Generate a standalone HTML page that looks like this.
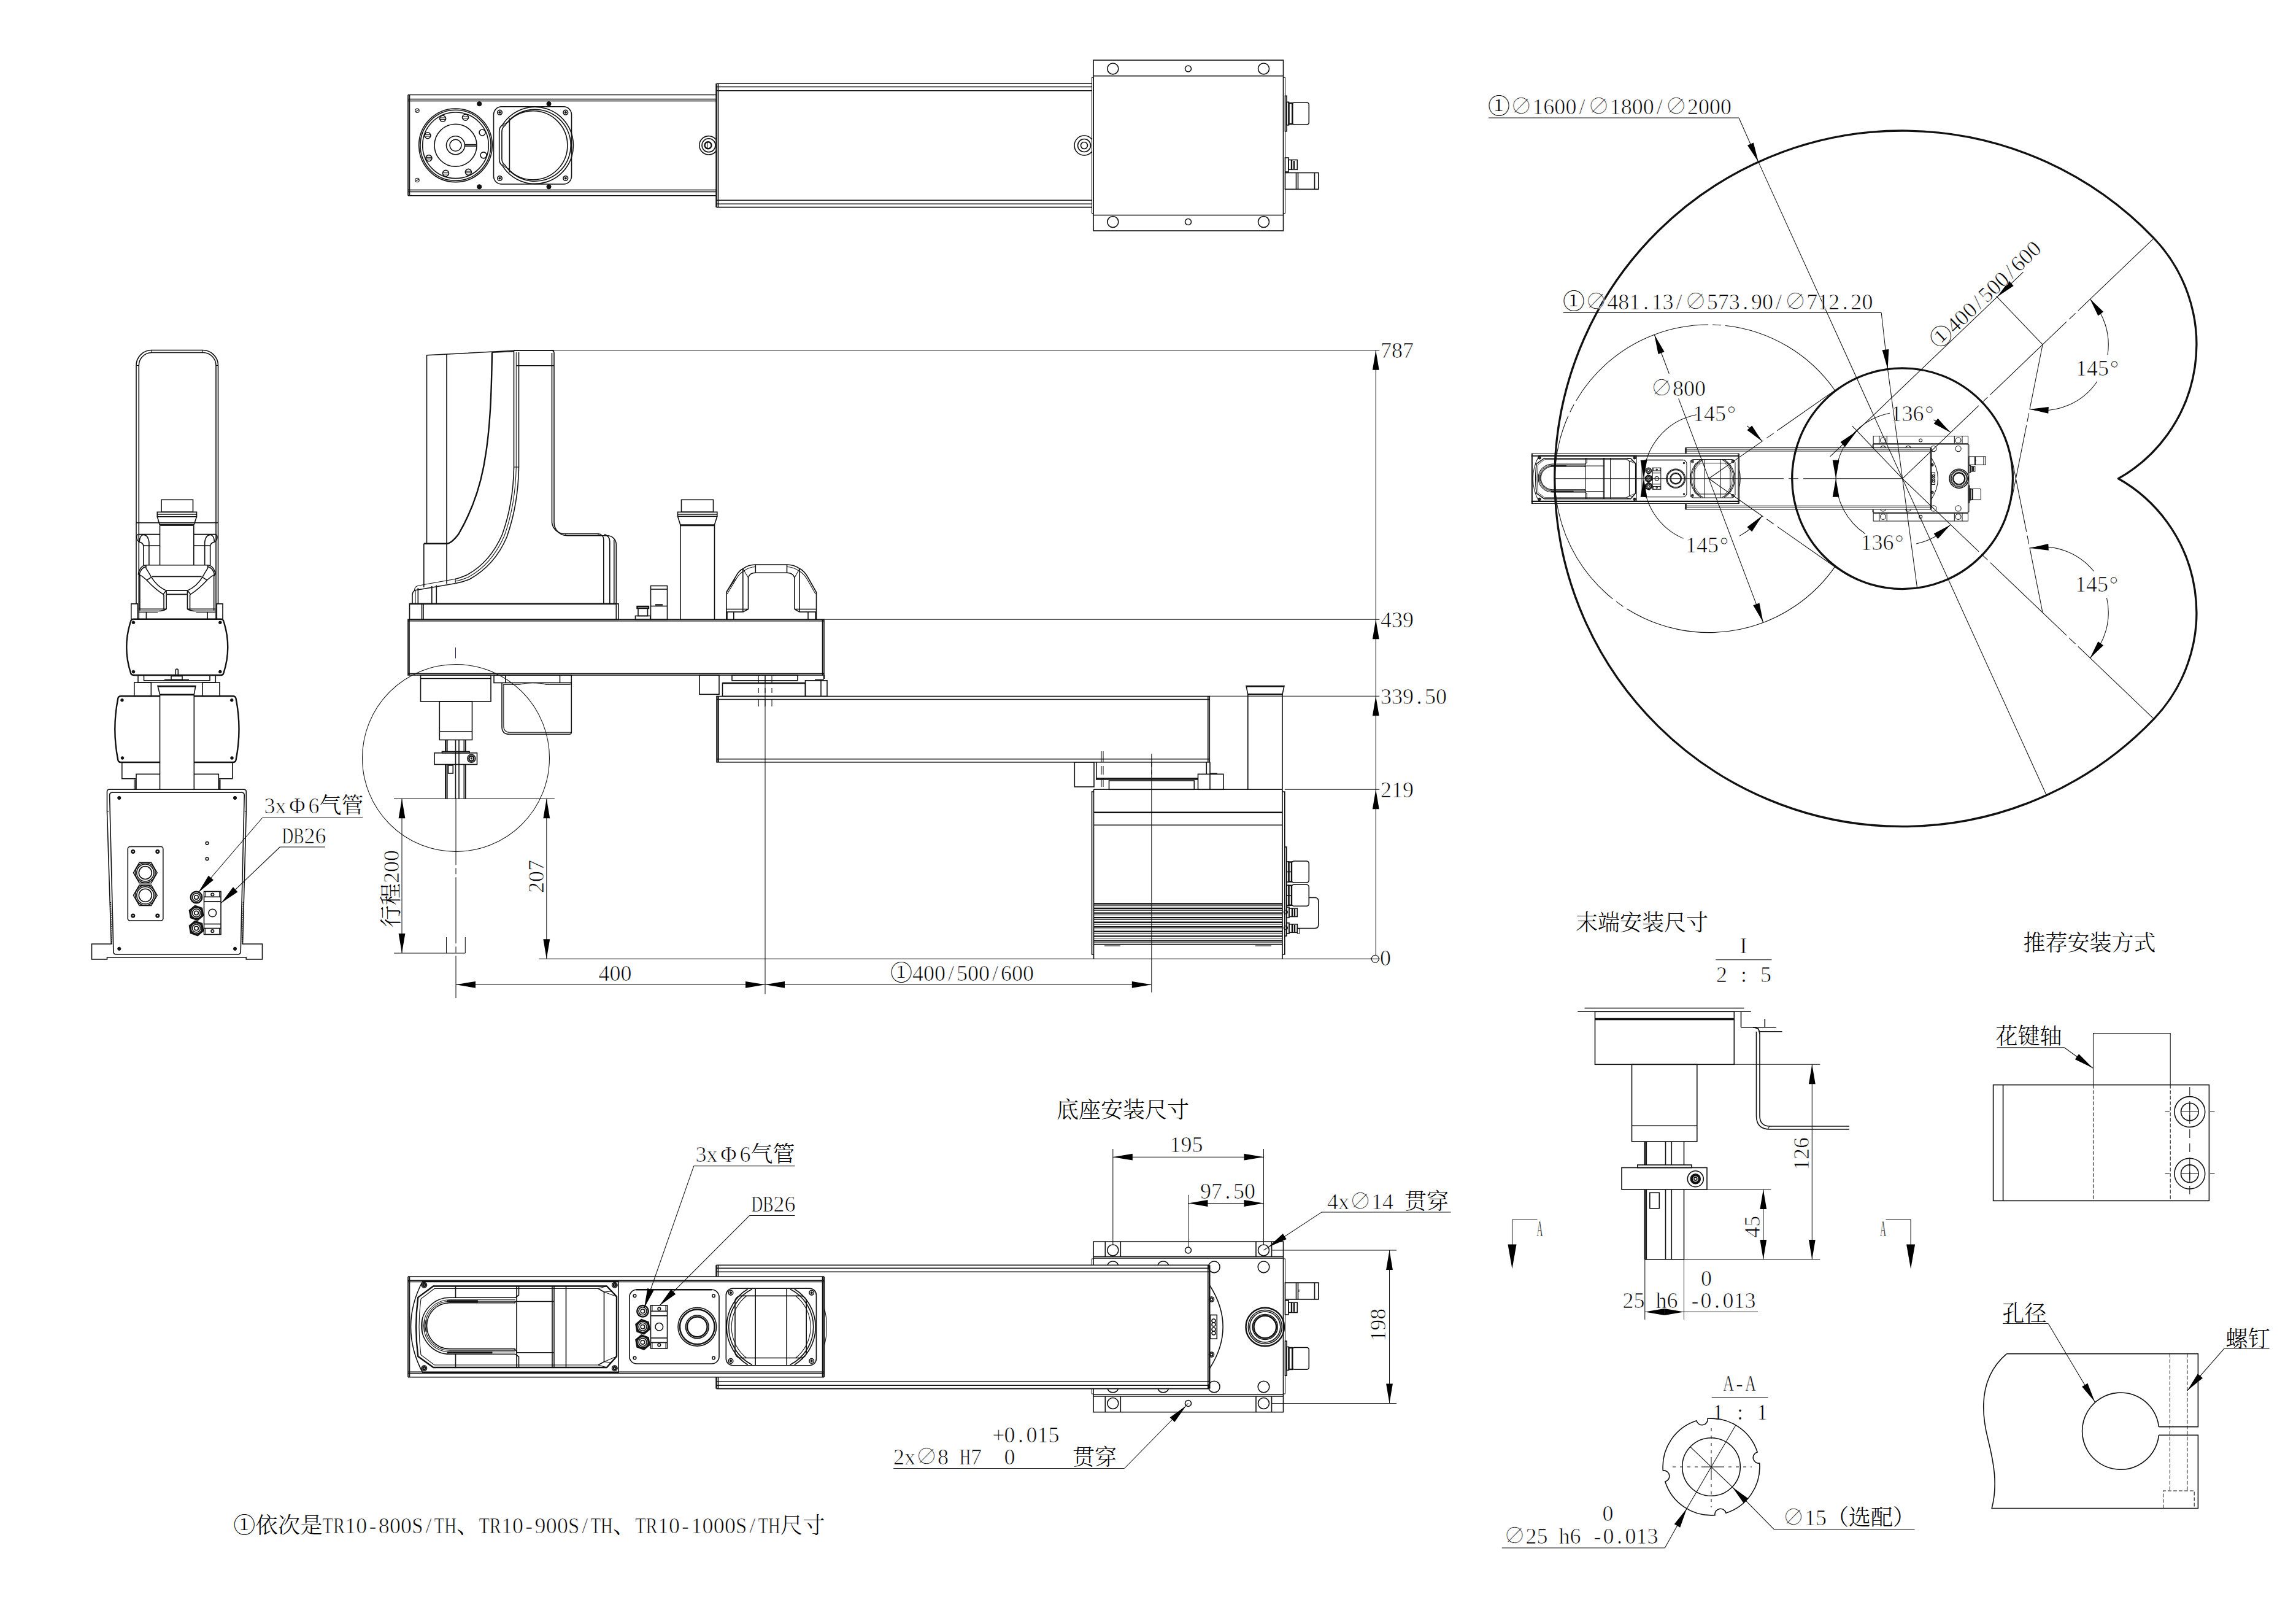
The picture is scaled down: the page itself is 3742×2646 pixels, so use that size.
<!DOCTYPE html>
<html lang="zh"><head><meta charset="utf-8"><title>TR10 SCARA outline drawing</title>
<style>
html,body{margin:0;padding:0;background:#fff}
svg{display:block}
path,rect,circle{fill:none;stroke:#111;stroke-width:1.6}
.t{stroke-width:1.05}
.h{stroke-width:2.4}
.k{stroke-width:3.3;stroke-linejoin:round}
.s{fill:#111;stroke-width:1}
.a{fill:#000;stroke:none}
.w{fill:#fff}
text{font-family:"Liberation Serif","Noto Serif CJK SC",serif;font-size:36px;fill:#000;stroke:#fff;stroke-width:0.7px}
.c{stroke:none;font-weight:300}
.m path,.m rect,.m circle{stroke-width:2.1}
.m .t{stroke-width:1.6}
.m .h,.m .k{stroke-width:3}
.m .s{stroke-width:1}
</style></head><body>
<svg width="3742" height="2646" viewBox="0 0 3742 2646">
<g id="topview">
<path class="o" d="M665 154.5L1167.5 154.5"/>
<path class="o" d="M665 161.5L1167.5 161.5"/>
<path class="o" d="M665 164.5L1167.5 164.5"/>
<path class="o" d="M665 309.5L1167.5 309.5"/>
<path class="o" d="M665 312.5L1167.5 312.5"/>
<path class="o" d="M665 318.8L1167.5 318.8"/>
<path class="o" d="M665 154.5L665 318.8"/>
<path class="o" d="M667.5 154.5L667.5 318.8"/>
<path class="o" d="M1167.5 136.3L1779.5 136.3"/>
<path class="o" d="M1167.5 141.5L1779.5 141.5"/>
<path class="o" d="M1167.5 147.8L1779.5 147.8"/>
<path class="o" d="M1167.5 326.3L1779.5 326.3"/>
<path class="o" d="M1167.5 332.2L1779.5 332.2"/>
<path class="o" d="M1167.5 337.6L1779.5 337.6"/>
<path class="h" d="M1167.5 136.3L1167.5 337.6"/>
<path class="o" d="M1170.5 136.3L1170.5 337.6"/>
<circle class="o" cx="742.5" cy="236.8" r="59.8"/>
<circle class="o" cx="742.5" cy="236.8" r="57.5"/>
<circle class="o" cx="742.5" cy="236.8" r="53.8"/>
<circle class="o" cx="742.5" cy="236.8" r="34.5"/>
<circle class="o" cx="742.5" cy="236.8" r="15"/>
<circle class="o" cx="742.5" cy="236.8" r="9.5"/>
<path class="o" d="M757.5 235.6L777 235.6"/>
<path class="o" d="M757.5 238L777 238"/>
<circle class="o" cx="786.06" cy="215.93" r="5"/>
<circle class="o" cx="758.54" cy="191.24" r="5"/>
<path class="t" d="M754.04 189.94L763.04 189.94"/>
<path class="t" d="M754.04 192.54L763.04 192.54"/>
<circle class="o" cx="721.63" cy="193.24" r="5"/>
<path class="t" d="M717.13 191.94L726.13 191.94"/>
<path class="t" d="M717.13 194.54L726.13 194.54"/>
<circle class="o" cx="696.94" cy="220.76" r="5"/>
<path class="t" d="M692.44 219.46L701.44 219.46"/>
<path class="t" d="M692.44 222.06L701.44 222.06"/>
<circle class="o" cx="698.94" cy="257.67" r="5"/>
<path class="t" d="M694.44 256.37L703.44 256.37"/>
<path class="t" d="M694.44 258.97L703.44 258.97"/>
<circle class="o" cx="726.46" cy="282.36" r="5"/>
<path class="t" d="M721.96 281.06L730.96 281.06"/>
<path class="t" d="M721.96 283.66L730.96 283.66"/>
<circle class="o" cx="763.37" cy="280.36" r="5"/>
<path class="t" d="M758.87 279.06L767.87 279.06"/>
<path class="t" d="M758.87 281.66L767.87 281.66"/>
<circle class="o" cx="788.06" cy="252.84" r="5"/>
<circle class="t" cx="680" cy="180.3" r="3.2"/>
<path class="t" d="M677.5 181.8L682.5 178.8"/>
<circle class="t" cx="680" cy="293.5" r="3.2"/>
<path class="t" d="M677.5 295L682.5 292"/>
<circle class="s" cx="781.2" cy="169.2" r="3.6"/>
<circle class="s" cx="894.5" cy="169.2" r="3.6"/>
<circle class="s" cx="781.2" cy="304.3" r="3.6"/>
<circle class="s" cx="894.5" cy="304.3" r="3.6"/>
<rect class="o" x="804.5" y="173.8" width="127" height="126.2" rx="13"/>
<circle class="o" cx="814.5" cy="183.2" r="3.8"/>
<circle class="s" cx="814.5" cy="183.2" r="1.6"/>
<circle class="o" cx="921.8" cy="183.2" r="3.8"/>
<circle class="s" cx="921.8" cy="183.2" r="1.6"/>
<circle class="o" cx="814.5" cy="290.5" r="3.8"/>
<circle class="s" cx="814.5" cy="290.5" r="1.6"/>
<circle class="o" cx="921.8" cy="290.5" r="3.8"/>
<circle class="s" cx="921.8" cy="290.5" r="1.6"/>
<path class="o" d="M818.7 203.78A62.6 62.6 0 1 1 818.7 269.82Q813.7 266.32 813.7 259.32L813.7 214.28Q813.7 207.28 818.7 203.78Z"/>
<path class="o" d="M822.9 204.64A58.5 58.5 0 1 1 822.9 268.96Q817.9 265.46 817.9 258.46L817.9 215.14Q817.9 208.14 822.9 204.64Z"/>
<path class="o" d="M830.4 196.13A56 56 0 1 1 830.4 277.47"/>
<path class="o" d="M830.4 192.75L830.4 280.85"/>
<path class="t" d="M830.4 198.13Q821 201 819 206"/>
<path class="t" d="M830.4 275.47Q821 272.6 819 267.6"/>
<path class="o" d="M1167.5 228.15A15.2 15.2 0 1 0 1167.5 245.45"/>
<circle class="o" cx="1155" cy="236.8" r="11"/>
<circle class="h" cx="1154" cy="236.8" r="5.5"/>
<path class="t" d="M1153 232L1153 241.5"/>
<path class="o" d="M1779.5 227.01A16 16 0 1 0 1779.5 246.99"/>
<circle class="o" cx="1767" cy="237" r="10.5"/>
<circle class="o" cx="1767" cy="237" r="5.5"/>
<rect class="o" x="1782" y="98" width="309.5" height="278"/>
<path class="o" d="M1782 123.8L2091.5 123.8"/>
<path class="o" d="M1782 350.5L2091.5 350.5"/>
<rect class="t" x="1779.5" y="126.3" width="2.5" height="221.2"/>
<rect class="t" x="2091.5" y="126.3" width="3" height="221.2"/>
<circle class="o" cx="1813.8" cy="112" r="9"/>
<circle class="o" cx="2059.5" cy="112" r="9"/>
<circle class="o" cx="1813.8" cy="361.5" r="9"/>
<circle class="o" cx="2059.5" cy="361.5" r="9"/>
<circle class="o" cx="1936.5" cy="112" r="5"/>
<circle class="o" cx="1936.5" cy="361.5" r="5"/>
<rect class="o" x="2094.5" y="156.3" width="2.5" height="57.5"/>
<rect class="o" x="2097" y="166.3" width="3.5" height="37.5"/>
<rect class="h" x="2100.5" y="168" width="5.8" height="34"/>
<rect class="o" x="2106.3" y="167" width="27" height="36" rx="3.5"/>
<rect class="o" x="2094.5" y="257" width="5.5" height="23"/>
<rect class="o" x="2100" y="260.5" width="14.3" height="15.8"/>
<path class="h" d="M2105 260.5L2105 276.3"/>
<path class="h" d="M2109 262L2109 275"/>
<rect class="o" x="2094.5" y="281.5" width="54.3" height="26.8"/>
<path class="o" d="M2112.5 281.5L2112.5 308.3"/>
<path class="o" d="M2115.5 281.5L2115.5 308.3"/>
<path class="o" d="M2142.5 281.5L2142.5 308.3"/>
</g>
<g id="sideview">
<path class="o" d="M837.5 571.3L695.5 578.8L695.5 885"/>
<path class="o" d="M728 577L728 951"/>
<path class="h" d="M802 574.3C801 640 799 700 790 750C782 800 766 838 747.5 870C740 880 733 885.5 728 885.8"/>
<path class="h" d="M690.8 885.8L728 885.8"/>
<path class="o" d="M690.8 885.8L690.8 957"/>
<path class="o" d="M802 574.3L837.5 572.5"/>
<path class="o" d="M837.5 571.3L837.5 761"/>
<path class="t" d="M841.3 574L841.3 761"/>
<path class="o" d="M845.5 574L845.5 761"/>
<path class="t" d="M837.5 761L845.5 761"/>
<path class="o" d="M845.5 761C845 800 839 838 826 875C812 908 790 930 765 944C752 949 745 950 742.5 950.5"/>
<path class="t" d="M841.3 761C840.5 800 835 837 822 873C808 905 788 927 763 940.5C751 945.5 745 946.5 742 947"/>
<path class="o" d="M837.5 761C837 800 831 836 818.5 871C805 902 786 923 761.5 936.5C750 941.5 744 943 741.5 943.5"/>
<path class="t" d="M742.2 943.5L742.2 950.5"/>
<path class="o" d="M742.5 950.5L690 959.5Q680 961 677.5 961.5Q672 963 672 970L672 983.8"/>
<path class="t" d="M741.5 943.5L690.8 952.5L681 954.5Q675.5 956 675.5 962"/>
<path class="o" d="M681.3 958L681.3 983.8"/>
<path class="t" d="M677 961L677 983.8"/>
<path class="o" d="M703.8 955L703.8 983.8"/>
<path class="o" d="M711.3 953.5L711.3 983.8"/>
<path class="o" d="M837.5 571.3L903 571.3"/>
<path class="o" d="M841.3 595.8L903 595.8"/>
<path class="o" d="M899.5 571.3Q903 571.3 903 575L903 851.3A21.5 21.5 0 0 0 924.5 872.8L990 872.8A14.5 14.5 0 0 1 1004.3 887.3L1004.3 983.8"/>
<path class="o" d="M899.5 575L899.5 851.3A21 21 0 0 0 920.5 869.8L975 869.8A9 9 0 0 1 983.8 878.8L983.8 983.8"/>
<path class="o" d="M985 870.5A12 12 0 0 1 993.8 882L993.8 983.8"/>
<path class="o" d="M1000.8 880L1000.8 983.8"/>
<path class="t" d="M922 869.8L922 872.8"/>
<path class="t" d="M975 869.8L975 872.8"/>
<rect class="o" x="667.5" y="983.8" width="340.5" height="25.5"/>
<path class="h" d="M667.5 983.8L1004.3 983.8"/>
<path class="o" d="M687.5 983.8L687.5 1009.3"/>
<path class="o" d="M690 983.8L690 1009.3"/>
<path class="o" d="M1004.3 983.8L1004.3 1009.3"/>
<rect class="o" x="665" y="1009.3" width="678" height="90.7"/>
<path class="o" d="M665 1011.8L1343 1011.8"/>
<path class="o" d="M665 1097.5L1343 1097.5"/>
<path class="o" d="M667 1009.3L667 1100"/>
<path class="o" d="M1340.5 1009.3L1340.5 1100"/>
<rect class="o" x="1110.5" y="814.3" width="52" height="20"/>
<rect class="o" x="1104.5" y="834.3" width="64.3" height="7"/>
<path class="o" d="M1104.5 838L1168.8 838"/>
<path class="o" d="M1104.5 841.3L1108.8 855L1164.5 855L1168.8 841.3"/>
<path class="o" d="M1108.8 856.5L1164.5 856.5"/>
<path class="o" d="M1108.8 855L1108.8 1009.3"/>
<path class="o" d="M1164.5 855L1164.5 1009.3"/>
<rect class="o" x="1060.5" y="954.5" width="27" height="54.8"/>
<path class="o" d="M1060.5 960L1087.5 960"/>
<path class="o" d="M1060.5 987.5L1087.5 987.5"/>
<path class="h" d="M1068 985.5L1080 985.5"/>
<rect class="o" x="1035.5" y="1003.5" width="24.5" height="5.8"/>
<rect class="o" x="1040" y="991" width="15.5" height="12.5"/>
<rect class="h" x="1038.5" y="988" width="18.5" height="3"/>
<path class="o" d="M1183.8 1009.3L1183.8 965L1198.8 940Q1204 930 1211.3 926.3Q1220 920 1231.3 920L1282.5 920Q1294 920 1303 926.3Q1310.5 930 1316.3 940L1330.5 965L1330.5 1009.3"/>
<path class="t" d="M1185 968L1199.8 943.5Q1205 934 1212 930.5Q1220 924 1231.3 923.5M1282.5 923.5Q1294 924 1302.5 930.5Q1309.5 934 1315.3 943.5L1329.3 968"/>
<path class="o" d="M1219.5 992.5L1219.5 941Q1222 933.3 1231.3 933.3L1282.5 933.3Q1292 933.3 1295 941L1295 992.5"/>
<path class="o" d="M1210.8 927L1210.8 997"/>
<path class="o" d="M1303 927L1303 997"/>
<path class="t" d="M1210.8 927L1219.5 941"/>
<path class="t" d="M1303 927L1295 941"/>
<path class="o" d="M1231.3 920L1231.3 933.3"/>
<path class="o" d="M1282.5 920L1282.5 933.3"/>
<path class="o" d="M1183.8 992.5L1219.5 992.5"/>
<path class="o" d="M1183.8 997L1210.8 997"/>
<path class="o" d="M1210.8 997L1219.5 992.5"/>
<path class="o" d="M1295 992.5L1330.5 992.5"/>
<path class="o" d="M1303 997L1330.5 997"/>
<path class="o" d="M1303 997L1295 992.5"/>
<path class="t" d="M1183.8 965L1198.8 943"/>
<path class="o" d="M1185 997L1185 1009.3"/>
<path class="o" d="M1195.8 997L1195.8 1009.3"/>
<path class="o" d="M1317 997L1317 1009.3"/>
<path class="o" d="M1328.8 997L1328.8 1009.3"/>
<rect class="o" x="685.5" y="1100" width="114.5" height="43"/>
<path class="o" d="M685.5 1105.5L800 1105.5"/>
<rect class="o" x="716.3" y="1143" width="53.2" height="62.5"/>
<path class="o" d="M716.3 1192L769.5 1192"/>
<path class="h" d="M726.3 1205.5L726.3 1224.5"/>
<path class="o" d="M728.8 1205.5L728.8 1224.5"/>
<path class="o" d="M742.5 1205.5L742.5 1301.3"/>
<path class="o" d="M748 1205.5L748 1301.3"/>
<path class="o" d="M756.3 1205.5L756.3 1224.5"/>
<path class="o" d="M758.8 1205.5L758.8 1224.5"/>
<rect class="o" x="720.5" y="1224.5" width="44.5" height="2.3"/>
<rect class="o" x="708" y="1226.8" width="69.5" height="18.7"/>
<circle class="o" cx="768.3" cy="1235.8" r="6.5"/>
<circle class="h" cx="768.3" cy="1235.8" r="4"/>
<circle class="s" cx="768.3" cy="1235.8" r="1.2"/>
<path class="h" d="M726.3 1245.5L726.3 1301.3"/>
<path class="o" d="M728.8 1245.5L728.8 1301.3"/>
<path class="o" d="M756.3 1245.5L756.3 1301.3"/>
<path class="o" d="M758.8 1245.5L758.8 1301.3"/>
<rect class="o" x="730.5" y="1247" width="7.8" height="13"/>
<rect class="o" x="805" y="1100" width="126.3" height="12.5"/>
<path class="o" d="M823.8 1100L823.8 1112.5"/>
<path class="o" d="M912.5 1100L912.5 1112.5"/>
<path class="o" d="M818 1112.5L818 1184Q818 1196.3 830 1196.3L928 1196.3Q931.3 1196.3 931.3 1193L931.3 1112.5"/>
<path class="t" d="M820.8 1115.5L820.8 1183Q820.8 1193.3 831 1193.3L931.3 1193.3"/>
<path class="t" d="M820 1115.5L846 1115.5Q860 1111.5 875 1112.8Q885 1113.5 890 1115.5L928 1115.5Q931.3 1115 931.3 1112.5"/>
<rect class="o" x="1140" y="1100" width="32" height="31.3"/>
<rect class="o" x="1193" y="1100" width="107" height="8.8"/>
<rect class="o" x="1177.5" y="1113" width="135" height="21.5"/>
<path class="h" d="M1177.5 1113L1312.5 1113"/>
<rect class="o" x="1312.5" y="1108.8" width="35.5" height="25.7"/>
<path class="o" d="M1338 1108.8L1338 1134.5"/>
<path class="h" d="M1328 1108L1343 1108"/>
<path class="h" d="M1343 1100L1343 1106"/>
<rect class="o" x="1168" y="1134.5" width="803.3" height="107.3"/>
<path class="o" d="M1168 1139.5L1971.3 1139.5"/>
<path class="o" d="M1168 1236.8L1971.3 1236.8"/>
<path class="h" d="M1170.5 1134.5L1170.5 1241.8"/>
<path class="o" d="M1968.8 1134.5L1968.8 1241.8"/>
<path class="o" d="M2031 1117.5L2093 1117.5L2090 1131.3L2033.8 1131.3Z"/>
<path class="h" d="M2031 1118.3L2093 1118.3"/>
<path class="h" d="M2033.8 1131.3L2090 1131.3"/>
<path class="o" d="M2033.8 1131.3L2033.8 1286.3"/>
<path class="o" d="M2090 1131.3L2090 1286.3"/>
<rect class="o" x="1751.3" y="1241.8" width="31.7" height="40.2"/>
<path class="o" d="M1786.8 1241.8L1786.8 1270L1952.5 1270"/>
<path class="o" d="M1966.3 1241.8L1966.3 1261.3"/>
<path class="h" d="M1786.8 1268.5L1952.5 1268.5"/>
<rect class="o" x="1807.5" y="1272" width="138.8" height="14.3"/>
<rect class="o" x="1952.5" y="1261.3" width="41.3" height="25"/>
<path class="o" d="M1972 1241.8L1972 1286.3"/>
<path class="h" d="M1972 1260.5L1984 1260.5"/>
<path class="o" d="M1782.5 1286.3L2090 1286.3"/>
<path class="o" d="M1782.5 1286.3L1782.5 1562.5"/>
<path class="o" d="M2090 1286.3L2090 1562.5"/>
<path class="o" d="M1782.5 1290L1779.5 1290L1779.5 1555L1782.5 1555"/>
<path class="o" d="M2090 1290L2093.8 1290L2093.8 1555L2090 1555"/>
<path class="h" d="M1782.5 1323.8L2090 1323.8"/>
<path class="o" d="M1782.5 1344.3L2090 1344.3"/>
<path class="h" d="M1782.5 1472.5L2090 1472.5"/>
<path class="t" d="M1782.5 1475.7L2090 1475.7"/>
<path class="h" d="M1782.5 1480.05L2090 1480.05"/>
<path class="t" d="M1782.5 1483.25L2090 1483.25"/>
<path class="h" d="M1782.5 1487.6L2090 1487.6"/>
<path class="t" d="M1782.5 1490.8L2090 1490.8"/>
<path class="h" d="M1782.5 1495.15L2090 1495.15"/>
<path class="t" d="M1782.5 1498.35L2090 1498.35"/>
<path class="h" d="M1782.5 1502.7L2090 1502.7"/>
<path class="t" d="M1782.5 1505.9L2090 1505.9"/>
<path class="h" d="M1782.5 1510.25L2090 1510.25"/>
<path class="t" d="M1782.5 1513.45L2090 1513.45"/>
<path class="h" d="M1782.5 1517.8L2090 1517.8"/>
<path class="t" d="M1782.5 1521L2090 1521"/>
<path class="h" d="M1782.5 1525.35L2090 1525.35"/>
<path class="t" d="M1782.5 1528.55L2090 1528.55"/>
<path class="h" d="M1782.5 1532.9L2090 1532.9"/>
<path class="t" d="M1782.5 1536.1L2090 1536.1"/>
<path class="o" d="M1782.5 1538.8L2090 1538.8"/>
<path class="t" d="M1800 1541L1826 1541"/>
<path class="t" d="M2046 1541L2072 1541"/>
<rect class="o" x="2093.8" y="1380" width="3" height="145"/>
<rect class="o" x="2096.8" y="1404" width="3.7" height="33"/>
<rect class="h" x="2100.5" y="1404.5" width="4.5" height="32"/>
<path class="o" d="M2096.8 1420.5L2105 1420.5"/>
<rect class="o" x="2105" y="1403" width="28.3" height="35" rx="4"/>
<rect class="o" x="2096.8" y="1442.3" width="3.7" height="33"/>
<rect class="h" x="2100.5" y="1442.8" width="4.5" height="32"/>
<path class="o" d="M2096.8 1458.8L2105 1458.8"/>
<rect class="o" x="2105" y="1441.3" width="28.3" height="35" rx="4"/>
<path class="o" d="M2133.3 1462.5L2143 1462.5Q2148.8 1462.5 2148.8 1468.5L2148.8 1506.5Q2148.8 1512.5 2143 1512.5L2114 1512.5"/>
<rect class="o" x="2096.8" y="1478" width="4.2" height="17.3"/>
<rect class="o" x="2101" y="1480" width="13.3" height="13.5"/>
<path class="h" d="M2106 1480L2106 1493.5"/>
<path class="h" d="M2110 1481L2110 1492.5"/>
<circle class="t" cx="2095.5" cy="1486" r="3"/>
<rect class="o" x="2096.8" y="1503.8" width="4.2" height="17.3"/>
<rect class="o" x="2101" y="1505.8" width="13.3" height="13.5"/>
<path class="h" d="M2106 1505.8L2106 1519.3"/>
<path class="h" d="M2110 1506.8L2110 1518.3"/>
<circle class="t" cx="2095.5" cy="1511.8" r="3"/>
<rect class="t" x="2114.3" y="1513" width="3.7" height="8"/>
<circle class="t" cx="743" cy="1235" r="152.5"/>
<path class="t" d="M742.5 1055L742.5 1072.5" style="stroke:#225"/>
<path class="t" d="M743 1301.3L743 1626" stroke-dasharray="108 5 10 5"/>
<path class="t" d="M1247 1100L1247 1620"/>
<path class="t" d="M1236.3 1100L1236.3 1162" stroke-dasharray="12 9 8 10 12 100"/>
<path class="t" d="M1247 1100L1247 1162" stroke-dasharray="12 9 8 10 12 100"/>
<path class="t" d="M1258 1100L1258 1162" stroke-dasharray="12 9 8 10 12 100"/>
<path class="t" d="M1876.8 1228L1876.8 1617"/>
<path class="t" d="M1795 1224L1795 1282M1798 1224L1798 1282" stroke-dasharray="18 6 14 6 20 100"/>
<path class="t" d="M1876.8 1241.8L1876.8 1262" stroke-dasharray="8 5"/>
<path class="t" d="M727.5 1527L727.5 1553"/>
<path class="t" d="M758.3 1527L758.3 1553"/>
<path class="t" d="M837.5 570.7L2248.3 570.7"/>
<path class="t" d="M1343 1009.3L2248.3 1009.3"/>
<path class="t" d="M1971.3 1134.3L2248.3 1134.3"/>
<path class="t" d="M2093.8 1286.3L2248.3 1286.3"/>
<path class="t" d="M878 1562.3L2235 1562.3"/>
<circle class="t" cx="2241.3" cy="1562.3" r="6"/>
<path class="t" d="M2233 1562.3L2249 1562.3"/>
<path class="t" d="M2242.3 570.7L2242.3 1556.3"/>
<path class="a" d="M2242.3 570.7L2247.7 602.7L2236.9 602.7Z"/>
<path class="a" d="M2242.3 1009.3L2247.7 1041.3L2236.9 1041.3Z"/>
<path class="a" d="M2242.3 1134.3L2247.7 1166.3L2236.9 1166.3Z"/>
<path class="a" d="M2242.3 1286.3L2247.7 1318.3L2236.9 1318.3Z"/>
<text transform="translate(2250 583.2)" text-anchor="middle" style="white-space:pre"><tspan x="9 27 45">787</tspan></text>
<text transform="translate(2250 1021.6)" text-anchor="middle" style="white-space:pre"><tspan x="9 27 45">439</tspan></text>
<text transform="translate(2250 1146.6)" text-anchor="middle" style="white-space:pre"><tspan x="9 27 45 63 81 99">339.50</tspan></text>
<text transform="translate(2250 1298.6)" text-anchor="middle" style="white-space:pre"><tspan x="9 27 45">219</tspan></text>
<text transform="translate(2249 1573.4)" text-anchor="middle" style="white-space:pre"><tspan x="9">0</tspan></text>
<path class="t" d="M642 1301.3L903.8 1301.3"/>
<path class="t" d="M642 1553L758.3 1553"/>
<path class="t" d="M655 1301.3L655 1553"/>
<path class="a" d="M655 1301.3L660.4 1333.3L649.6 1333.3Z"/>
<path class="a" d="M655 1553L649.6 1521L660.4 1521Z"/>
<text transform="translate(650 1511) rotate(-90)" text-anchor="middle" style="white-space:pre"><tspan class="c" x="18 54">行程</tspan><tspan x="81 99 117">200</tspan></text>
<path class="t" d="M890.8 1301.3L890.8 1562.3"/>
<path class="a" d="M890.8 1301.3L896.2 1333.3L885.4 1333.3Z"/>
<path class="a" d="M890.8 1562.3L885.4 1530.3L896.2 1530.3Z"/>
<text transform="translate(885.5 1455) rotate(-90)" text-anchor="middle" style="white-space:pre"><tspan x="9 27 45">207</tspan></text>
<path class="t" d="M743 1604.3L1876.8 1604.3"/>
<path class="a" d="M743 1604.3L775 1598.9L775 1609.7Z"/>
<path class="a" d="M1247 1604.3L1215 1609.7L1215 1598.9Z"/>
<path class="a" d="M1247 1604.3L1279 1598.9L1279 1609.7Z"/>
<path class="a" d="M1876.8 1604.3L1844.8 1609.7L1844.8 1598.9Z"/>
<text transform="translate(975.5 1598.2)" text-anchor="middle" style="white-space:pre"><tspan x="9 27 45">400</tspan></text>
<text transform="translate(1451 1598.2)" text-anchor="middle" style="white-space:pre"><tspan class="c" x="18">①</tspan><tspan x="45 63 81 99 117 135 153 171 189 207 225">400/500/600</tspan></text>
</g>
<g id="frontview">
<path class="o" d="M222 983.8L222 595.5A25 25 0 0 1 247 570.5L330.5 570.5A25 25 0 0 1 355.5 595.5L355.5 983.8"/>
<path class="o" d="M226.3 1008.8L226.3 595.5A21 21 0 0 1 247 574.5L330.5 574.5A21 21 0 0 1 352 595.5L352 1008.8"/>
<path class="t" d="M247 570.5L247 574.5"/>
<path class="t" d="M330.5 570.5L330.5 574.5"/>
<path class="t" d="M222 595.5L226.3 595.5"/>
<path class="t" d="M352 595.5L355.5 595.5"/>
<path class="o" d="M222 851.8L355.5 851.8"/>
<path class="o" d="M226.3 870.8L260.5 870.8"/>
<path class="o" d="M315.8 870.8L352 870.8"/>
<rect class="o" x="263" y="814.3" width="51.5" height="20"/>
<rect class="o" x="256.3" y="834.3" width="64.2" height="7.5"/>
<path class="o" d="M256.3 838L320.5 838"/>
<path class="o" d="M256.3 841.8L260 854.5L316.3 854.5L320.5 841.8"/>
<path class="o" d="M260 856.3L316.3 856.3"/>
<path class="o" d="M260.5 856.3L260.5 920.8"/>
<path class="o" d="M315.8 856.3L315.8 920.8"/>
<path class="o" d="M225.52 870.5Q222.18 871.45 222.66 876.23Q223.14 881.48 227.91 883.39Q233.16 884.82 233.92 889.59L233.92 921.09"/>
<path class="o" d="M227.15 882.72Q227.72 872.22 233.64 871.26Q241.75 871.65 242.9 883.86L242.9 921.09"/>
<path class="o" d="M225.52 870.5L260.84 870.5"/>
<path class="o" d="M233.92 889.11L260.84 889.11"/>
<path class="o" d="M237.46 920.81Q227.91 922.05 225.24 936.37"/>
<path class="o" d="M237.93 923.19Q229.63 924.91 226.95 936.37L227.91 939.23L227.91 994.59"/>
<path class="o" d="M237.93 920.81L237.93 925.86"/>
<path class="o" d="M227.43 936.37Q232.68 939.23 238.41 944.48Q251.77 959.27 266.09 968.34L267.05 969.77L267.05 993.16"/>
<path class="o" d="M237.93 925.86Q241.27 930.64 246.24 939.71Q255.59 955.46 270.86 962.14L271.15 964.05L271.15 992.49"/>
<path class="o" d="M239.36 944.96L246.52 940.66"/>
<path class="o" d="M266.09 968.34L270.86 962.14"/>
<path class="o" d="M225.52 992.21L271.15 992.21"/>
<path class="o" d="M225.52 995.55L258.46 995.55Q266.09 995.36 271.15 992.49"/>
<path class="o" d="M238.41 997.46L238.41 1008.91"/>
<path class="t" d="M225.52 997.46L257.02 997.46"/>
<path class="o" d="M351.05 870.5Q354.39 871.45 353.91 876.23Q353.43 881.48 348.66 883.39Q343.41 884.82 342.65 889.59L342.65 921.09"/>
<path class="o" d="M349.43 882.72Q348.85 872.22 342.93 871.26Q334.82 871.65 333.68 883.86L333.68 921.09"/>
<path class="o" d="M351.05 870.5L315.73 870.5"/>
<path class="o" d="M342.65 889.11L315.73 889.11"/>
<path class="o" d="M339.12 920.81Q348.66 922.05 351.33 936.37"/>
<path class="o" d="M338.64 923.19Q346.94 924.91 349.62 936.37L348.66 939.23L348.66 994.59"/>
<path class="o" d="M338.64 920.81L338.64 925.86"/>
<path class="o" d="M349.14 936.37Q343.89 939.23 338.16 944.48Q324.8 959.27 310.48 968.34L309.52 969.77L309.52 993.16"/>
<path class="o" d="M338.64 925.86Q335.3 930.64 330.33 939.71Q320.98 955.46 305.71 962.14L305.42 964.05L305.42 992.49"/>
<path class="o" d="M337.21 944.96L330.05 940.66"/>
<path class="o" d="M310.48 968.34L305.71 962.14"/>
<path class="o" d="M351.05 992.21L305.42 992.21"/>
<path class="o" d="M351.05 995.55L318.12 995.55Q310.48 995.36 305.42 992.49"/>
<path class="o" d="M338.16 997.46L338.16 1008.91"/>
<path class="t" d="M351.05 997.46L319.55 997.46"/>
<path class="o" d="M237.46 920.81L339.12 920.81"/>
<path class="o" d="M247.96 939.42L328.62 939.42"/>
<path class="o" d="M270.86 962.14L305.71 962.14"/>
<path class="o" d="M271.82 968.34L304.75 968.34"/>
<rect class="o" x="213.8" y="983.8" width="10.7" height="25"/>
<rect class="o" x="353.3" y="983.8" width="9.7" height="25"/>
<path class="h" d="M217.8 1008.8L359.8 1008.8Q363.8 1008.8 364.5 1012.5Q378 1054.4 364.5 1096.3Q363.8 1100 359.8 1100L217.8 1100Q213.8 1100 213 1096.3Q199.5 1054.4 213 1012.5Q213.8 1008.8 217.8 1008.8Z"/>
<circle class="s" cx="217.5" cy="1014.3" r="2.3"/>
<circle class="s" cx="358.8" cy="1014.3" r="2.3"/>
<circle class="s" cx="217.5" cy="1094.5" r="2.3"/>
<circle class="s" cx="358.8" cy="1094.5" r="2.3"/>
<path class="o" d="M225 1100L225 1112L351.3 1112L351.3 1100"/>
<path class="o" d="M234.5 1100L234.5 1108.8L342 1108.8L342 1100"/>
<rect class="o" x="218.8" y="1112" width="27.5" height="22.3"/>
<rect class="o" x="330" y="1112" width="28" height="22.3"/>
<path class="h" d="M268 1108L308 1108"/>
<rect class="o" x="279" y="1101.5" width="18" height="6"/>
<path class="o" d="M286.3 1100L286.3 1092A2 2 0 0 1 290.3 1092L290.3 1100"/>
<path class="o" d="M257 1117.5L260.5 1131.3L316.3 1131.3L318.8 1117.5Z"/>
<path class="h" d="M257 1118.3L318.8 1118.3"/>
<path class="o" d="M260.5 1132.5L316.3 1132.5"/>
<path class="o" d="M260.5 1131.3L260.5 1286.3"/>
<path class="o" d="M316.3 1131.3L316.3 1286.3"/>
<path class="h" d="M197 1134.3L260.5 1134.3M316.3 1134.3L379.8 1134.3Q383.8 1134.3 384.5 1138Q394.5 1188 384.5 1238.3Q383.8 1242 379.8 1242L316.3 1242M260.5 1242L197 1242Q193 1242 192.3 1238.3Q182.3 1188 192.3 1138Q193 1134.3 197 1134.3"/>
<circle class="s" cx="199" cy="1140.8" r="2.3"/>
<circle class="s" cx="377.8" cy="1140.8" r="2.3"/>
<circle class="s" cx="199.5" cy="1235" r="2.3"/>
<circle class="s" cx="378" cy="1235" r="2.3"/>
<path class="o" d="M198.8 1242L198.8 1268.8L222 1268.8"/>
<path class="o" d="M378.8 1242L378.8 1268.8L356.3 1268.8"/>
<path class="o" d="M260.5 1261.3L222 1261.3L222 1286.3"/>
<path class="o" d="M316.3 1261.3L356.3 1261.3L356.3 1286.3"/>
<path class="t" d="M218.8 1270L218.8 1286.3"/>
<path class="t" d="M220.3 1270L220.3 1286.3"/>
<path class="t" d="M357.5 1270L357.5 1286.3"/>
<path class="t" d="M359 1270L359 1286.3"/>
<path class="o" d="M174.5 1290Q174.5 1286.3 178 1286.3L397.8 1286.3Q401.3 1286.3 401.3 1290L401.3 1322L395.5 1538L427.5 1538L427.5 1563L401.3 1563L401.3 1560L174.5 1560L174.5 1563L149.5 1563L149.5 1538L181.3 1538L174.5 1322Z"/>
<path class="o" d="M183 1291.3L393.8 1291.3Q398.3 1291.3 398.2 1295.8L392.2 1550.5Q392 1555 387.5 1555L189.5 1555Q185 1555 184.9 1550.5L178.6 1295.8Q178.5 1291.3 183 1291.3Z"/>
<path class="t" d="M174.5 1322L177.2 1322"/>
<path class="t" d="M401.3 1322L398.8 1322"/>
<path class="t" d="M180.5 1470L182.5 1538M396.3 1470L394.3 1538" stroke-dasharray="1.5 1.5"/>
<circle class="s" cx="194.3" cy="1300" r="2.6"/>
<circle class="s" cx="383" cy="1300" r="2.6"/>
<circle class="s" cx="194.3" cy="1545.8" r="2.6"/>
<circle class="s" cx="383" cy="1545.8" r="2.6"/>
<rect class="o" x="208.3" y="1379.5" width="57.5" height="120.5" rx="3.5"/>
<circle class="h" cx="216.8" cy="1387.5" r="2.3"/>
<circle class="h" cx="256.8" cy="1387.5" r="2.3"/>
<circle class="h" cx="216.8" cy="1492" r="2.3"/>
<circle class="h" cx="256.8" cy="1492" r="2.3"/>
<path class="o" d="M256.1 1422L246.45 1438.71L227.15 1438.71L217.5 1422L227.15 1405.29L246.45 1405.29Z"/>
<circle class="o" cx="236.8" cy="1422" r="16.3"/>
<circle class="o" cx="236.8" cy="1422" r="14"/>
<circle class="o" cx="236.8" cy="1422" r="10.5"/>
<path class="o" d="M256.1 1458.8L246.45 1475.51L227.15 1475.51L217.5 1458.8L227.15 1442.09L246.45 1442.09Z"/>
<circle class="o" cx="236.8" cy="1458.8" r="16.3"/>
<circle class="o" cx="236.8" cy="1458.8" r="14"/>
<circle class="o" cx="236.8" cy="1458.8" r="10.5"/>
<circle class="o" cx="337.5" cy="1373.8" r="2.3"/>
<circle class="o" cx="337.5" cy="1399.3" r="2.3"/>
<circle class="h" cx="320" cy="1462" r="9.3"/>
<circle class="o" cx="320" cy="1462" r="6.5"/>
<circle class="o" cx="320" cy="1462" r="3.3"/>
<path class="h" d="M331.09 1491.54L322.05 1499.12L310.96 1495.08L308.91 1483.46L317.95 1475.88L329.04 1479.92Z"/>
<circle class="h" cx="320" cy="1487.5" r="9.3"/>
<circle class="o" cx="320" cy="1487.5" r="6.5"/>
<circle class="o" cx="320" cy="1487.5" r="3.3"/>
<path class="h" d="M331.09 1516.54L322.05 1524.12L310.96 1520.08L308.91 1508.46L317.95 1500.88L329.04 1504.92Z"/>
<circle class="h" cx="320" cy="1512.5" r="9.3"/>
<circle class="o" cx="320" cy="1512.5" r="6.5"/>
<circle class="o" cx="320" cy="1512.5" r="3.3"/>
<rect class="o" x="332.5" y="1452.5" width="27.5" height="70"/>
<path class="o" d="M332.5 1461.3L360 1461.3"/>
<path class="o" d="M332.5 1468.8L360 1468.8"/>
<path class="o" d="M332.5 1505.5L360 1505.5"/>
<path class="o" d="M332.5 1512.5L360 1512.5"/>
<circle class="o" cx="346.3" cy="1487.5" r="6.3"/>
<circle class="o" cx="346.3" cy="1457.5" r="2.3"/>
<circle class="o" cx="346.3" cy="1517" r="2.3"/>
<path class="t" d="M335 1452.5L335 1461.3"/>
<path class="t" d="M357.5 1452.5L357.5 1461.3"/>
<path class="t" d="M335 1512.5L335 1522.5"/>
<path class="t" d="M357.5 1512.5L357.5 1522.5"/>
<path class="t" d="M427.5 1332.5L591.3 1332.5"/>
<path class="t" d="M427.5 1332.5L323 1454.5"/>
<path class="a" d="M323 1454.5L339.72 1426.68L347.92 1433.71Z"/>
<text transform="translate(430.5 1325)" text-anchor="middle" style="white-space:pre"><tspan x="9 27 54 81">3xΦ6</tspan><tspan class="c" x="108 144">气管</tspan></text>
<path class="t" d="M456.3 1380L530 1380"/>
<path class="t" d="M456.3 1380L360.5 1471.3"/>
<path class="a" d="M360.5 1471.3L379.94 1445.31L387.39 1453.13Z"/>
<text transform="translate(459.5 1373.8)" text-anchor="middle" style="white-space:pre"><tspan text-anchor="start" x="0" textLength="36" lengthAdjust="spacingAndGlyphs">DB</tspan><tspan x="45 63">26</tspan></text>
</g>
<g id="bv">
<path class="o" d="M1782 2061.3L1782 2023L2091.5 2023L2091.5 2300.8L1782 2300.8L1782 2262.6"/>
<path class="o" d="M1782 2047.5L2091.5 2047.5"/>
<path class="o" d="M1782 2050L2091.5 2050"/>
<path class="o" d="M1782 2272L2091.5 2272"/>
<path class="o" d="M1782 2275L2091.5 2275"/>
<path class="o" d="M1801.3 2023L1801.3 2047.5"/>
<path class="o" d="M1801.3 2275L1801.3 2300.8"/>
<path class="o" d="M1826.3 2023L1826.3 2047.5"/>
<path class="o" d="M1826.3 2275L1826.3 2300.8"/>
<path class="o" d="M2047 2023L2047 2047.5"/>
<path class="o" d="M2047 2275L2047 2300.8"/>
<path class="o" d="M2072.5 2023L2072.5 2047.5"/>
<path class="o" d="M2072.5 2275L2072.5 2300.8"/>
<circle class="o" cx="1813.8" cy="2037" r="9"/>
<circle class="o" cx="2059.5" cy="2037" r="9"/>
<circle class="o" cx="1813.8" cy="2286.5" r="9"/>
<circle class="o" cx="2059.5" cy="2286.5" r="9"/>
<circle class="o" cx="1936.5" cy="2037" r="5"/>
<circle class="o" cx="1936.5" cy="2286.5" r="5"/>
<path class="t" d="M1782 2051L1779.5 2051L1779.5 2061.3"/>
<path class="t" d="M1782 2271L1779.5 2271L1779.5 2262.6"/>
<path class="t" d="M2091.5 2051L2094.5 2051L2094.5 2271L2091.5 2271"/>
<path class="o" d="M1822.59 2061.27A9.3 9.3 0 0 0 1805.01 2061.27"/>
<path class="o" d="M1805.01 2262.53A9.3 9.3 0 0 0 1822.59 2262.53"/>
<path class="o" d="M1904.59 2061.27A9.3 9.3 0 0 0 1887.01 2061.27"/>
<path class="o" d="M1887.01 2262.53A9.3 9.3 0 0 0 1904.59 2262.53"/>
<circle class="o" cx="1978.8" cy="2064.3" r="9.3"/>
<circle class="o" cx="2059.5" cy="2064.3" r="9.3"/>
<circle class="o" cx="1978.8" cy="2259.5" r="9.3"/>
<circle class="o" cx="2059.5" cy="2259.5" r="9.3"/>
<circle class="h" cx="2061.8" cy="2162" r="31.3"/>
<circle class="o" cx="2061.8" cy="2162" r="27.5"/>
<circle class="o" cx="2061.8" cy="2162" r="25"/>
<circle class="o" cx="2061.8" cy="2162" r="20.5"/>
<circle class="h" cx="2061.8" cy="2162" r="18.3"/>
<rect class="o" x="2094.5" y="2090" width="54.3" height="27"/>
<path class="o" d="M2112.5 2090L2112.5 2117"/>
<path class="o" d="M2115.5 2090L2115.5 2117"/>
<path class="o" d="M2142.5 2090L2142.5 2117"/>
<path class="t" d="M2117 2101L2117 2105"/>
<rect class="o" x="2094.5" y="2118.8" width="5.5" height="23.2"/>
<rect class="o" x="2100" y="2122" width="14.3" height="16.5"/>
<path class="h" d="M2105 2122L2105 2138.5"/>
<path class="h" d="M2109 2123L2109 2137.5"/>
<rect class="o" x="2094.5" y="2185" width="2.5" height="56.3"/>
<rect class="o" x="2097" y="2194.5" width="3.5" height="38"/>
<rect class="h" x="2100.5" y="2196" width="5.8" height="35"/>
<rect class="o" x="2106.3" y="2195.5" width="27" height="35.8" rx="3.5"/>
<path class="o" d="M1167.5 2061.3L1971.3 2061.3"/>
<path class="o" d="M1167.5 2066.3L1971.3 2066.3"/>
<path class="o" d="M1167.5 2072.3L1971.3 2072.3"/>
<path class="o" d="M1167.5 2251.3L1971.3 2251.3"/>
<path class="o" d="M1167.5 2257.3L1971.3 2257.3"/>
<path class="o" d="M1167.5 2262.6L1971.3 2262.6"/>
<path class="h" d="M1167.5 2061.3L1167.5 2080"/>
<path class="o" d="M1170.5 2061.3L1170.5 2080"/>
<path class="h" d="M1167.5 2243.8L1167.5 2262.6"/>
<path class="o" d="M1170.5 2243.8L1170.5 2262.6"/>
<path class="o" d="M1968.8 2061.3L1968.8 2262.6"/>
<path class="h" d="M1971.3 2061.3L1971.3 2262.6"/>
<path class="o" d="M1971.3 2093.8Q2015 2162 1971.3 2230"/>
<rect class="o" x="1972.5" y="2142.5" width="10.8" height="38.8"/>
<circle class="o" cx="1978" cy="2152" r="3"/>
<circle class="o" cx="1978" cy="2158" r="3"/>
<circle class="o" cx="1978" cy="2166" r="3"/>
<circle class="o" cx="1978" cy="2172" r="3"/>
<circle class="o" cx="1974.5" cy="2117" r="4"/>
<circle class="o" cx="1974.5" cy="2117" r="2"/>
<circle class="o" cx="1974.5" cy="2207" r="4"/>
<circle class="o" cx="1974.5" cy="2207" r="2"/>
<path class="o" d="M665 2080L1343 2080"/>
<path class="o" d="M665 2086.3L1343 2086.3"/>
<path class="o" d="M665 2088.5L1343 2088.5"/>
<path class="o" d="M665 2235.3L1343 2235.3"/>
<path class="o" d="M665 2237.5L1343 2237.5"/>
<path class="o" d="M665 2243.8L1343 2243.8"/>
<path class="o" d="M665 2080L665 2243.8"/>
<path class="o" d="M667.5 2080L667.5 2243.8"/>
<path class="o" d="M1340.5 2080L1340.5 2243.8"/>
<path class="h" d="M1343 2080L1343 2243.8"/>
<path class="t" d="M1343 2130Q1352 2162 1343 2194"/>
<rect class="o" x="1183.3" y="2099.2" width="147.1" height="125.5" rx="11"/>
<circle class="o" cx="1191" cy="2106.3" r="3.8"/>
<circle class="s" cx="1191" cy="2106.3" r="1.6"/>
<circle class="o" cx="1322.7" cy="2106.3" r="3.8"/>
<circle class="s" cx="1322.7" cy="2106.3" r="1.6"/>
<circle class="o" cx="1191" cy="2217.4" r="3.8"/>
<circle class="s" cx="1191" cy="2217.4" r="1.6"/>
<circle class="o" cx="1322.7" cy="2217.4" r="3.8"/>
<circle class="s" cx="1322.7" cy="2217.4" r="1.6"/>
<path class="o" d="M1218.63 2100.3A72.5 72.5 0 0 0 1218.63 2223.7"/>
<path class="o" d="M1294.77 2100.3A72.5 72.5 0 0 1 1294.77 2223.7"/>
<path class="o" d="M1225.81 2100.3A69 69 0 0 0 1225.81 2223.7"/>
<path class="o" d="M1287.59 2100.3A69 69 0 0 1 1287.59 2223.7"/>
<path class="t" d="M1216.58 2111.5A64.5 64.5 0 0 0 1216.58 2212.5"/>
<path class="t" d="M1296.82 2111.5A64.5 64.5 0 0 1 1296.82 2212.5"/>
<rect class="o" x="1198" y="2111.4" width="116.2" height="101.1" rx="9"/>
<path class="o" d="M1231.2 2099.2L1231.2 2224.7"/>
<path class="o" d="M1282.2 2099.2L1282.2 2224.7"/>
<rect class="o" x="1025.8" y="2101.3" width="146.2" height="120.7" rx="12"/>
<path class="h" d="M1037 2101.3L1160 2101.3"/>
<circle class="o" cx="1034.5" cy="2111.3" r="2.3"/>
<circle class="o" cx="1163" cy="2111.3" r="2.3"/>
<circle class="o" cx="1034.5" cy="2212.5" r="2.3"/>
<circle class="o" cx="1163" cy="2212.5" r="2.3"/>
<circle class="h" cx="1047.5" cy="2136.3" r="9.3"/>
<circle class="o" cx="1047.5" cy="2136.3" r="6.5"/>
<circle class="o" cx="1047.5" cy="2136.3" r="3.3"/>
<path class="h" d="M1058.59 2165.84L1049.55 2173.42L1038.46 2169.38L1036.41 2157.76L1045.45 2150.18L1056.54 2154.22Z"/>
<circle class="h" cx="1047.5" cy="2161.8" r="9.3"/>
<circle class="o" cx="1047.5" cy="2161.8" r="6.5"/>
<circle class="o" cx="1047.5" cy="2161.8" r="3.3"/>
<path class="h" d="M1058.59 2191.04L1049.55 2198.62L1038.46 2194.58L1036.41 2182.96L1045.45 2175.38L1056.54 2179.42Z"/>
<circle class="h" cx="1047.5" cy="2187" r="9.3"/>
<circle class="o" cx="1047.5" cy="2187" r="6.5"/>
<circle class="o" cx="1047.5" cy="2187" r="3.3"/>
<rect class="o" x="1060.5" y="2126.8" width="27" height="70.2"/>
<path class="o" d="M1060.5 2136.3L1087.5 2136.3"/>
<path class="o" d="M1060.5 2143.8L1087.5 2143.8"/>
<path class="o" d="M1060.5 2180L1087.5 2180"/>
<path class="o" d="M1060.5 2187.5L1087.5 2187.5"/>
<circle class="o" cx="1074.3" cy="2161.8" r="6.3"/>
<circle class="o" cx="1074.3" cy="2132.5" r="2.3"/>
<circle class="o" cx="1074.3" cy="2191.3" r="2.3"/>
<path class="t" d="M1063 2126.8L1063 2136.3"/>
<path class="t" d="M1085 2126.8L1085 2136.3"/>
<path class="t" d="M1063 2187.5L1063 2197"/>
<path class="t" d="M1085 2187.5L1085 2197"/>
<circle class="o" cx="1136.3" cy="2161.8" r="31.3"/>
<circle class="h" cx="1136.3" cy="2161.8" r="28.3"/>
<circle class="o" cx="1136.3" cy="2161.8" r="18.8"/>
<circle class="h" cx="1136.3" cy="2161.8" r="16.3"/>
<path class="o" d="M688.8 2087.5L1008 2087.5L1008 2236.3L688.8 2236.3Q669.5 2200 669.5 2161.9Q669.5 2124 688.8 2087.5Z"/>
<circle class="o" cx="691.3" cy="2093.8" r="4.2"/>
<circle class="h" cx="691.3" cy="2093.8" r="2"/>
<circle class="o" cx="1001.8" cy="2093.8" r="4.2"/>
<circle class="h" cx="1001.8" cy="2093.8" r="2"/>
<circle class="o" cx="691.3" cy="2229.3" r="4.2"/>
<circle class="h" cx="691.3" cy="2229.3" r="2"/>
<circle class="o" cx="1001.8" cy="2229.3" r="4.2"/>
<circle class="h" cx="1001.8" cy="2229.3" r="2"/>
<path class="h" d="M706.3 2095.5L988.8 2095.5L1005 2112.5L1005 2210L988.8 2228L706.3 2228L681.3 2210Q675 2162 681.3 2113.8Z"/>
<path class="t" d="M708 2099.5L975 2099.5M975 2224L708 2224L686 2207.5Q680 2162 686 2116.3L708 2099.5"/>
<path class="o" d="M975 2099.5L984.5 2105L984.5 2218.8L975 2224"/>
<path class="t" d="M984.5 2105L1005 2112.5"/>
<path class="t" d="M984.5 2218.8L1005 2210"/>
<path class="t" d="M975 2099.5L988.8 2095.5"/>
<path class="t" d="M975 2224L988.8 2228"/>
<path class="t" d="M984.5 2105L996 2104"/>
<path class="t" d="M984.5 2218.8L996 2220"/>
<path class="o" d="M840 2114.3L733 2114.3A46 46 0 0 0 733 2206.3L840 2206.3"/>
<path class="t" d="M840 2117.8L733 2117.8A42.5 42.5 0 0 0 733 2202.8L840 2202.8"/>
<path class="t" d="M840 2120.3L733 2120.3A40 40 0 0 0 733 2200.3L840 2200.3"/>
<path class="o" d="M840 2122.8L733 2122.8A37.5 37.5 0 0 0 733 2197.8L840 2197.8"/>
<path class="k" d="M728.8 2120L778.8 2120"/>
<path class="k" d="M728.8 2203.5L802.5 2203.5"/>
<path class="t" d="M688 2150L688 2170"/>
<path class="t" d="M692 2150L692 2170"/>
<path class="t" d="M695 2150L695 2170"/>
<path class="o" d="M840 2114.3L845.5 2110L845.5 2095.5"/>
<path class="o" d="M840 2206.3L845.5 2210.5L845.5 2228"/>
<path class="o" d="M838 2122.8L842 2119.5L842 2095.5"/>
<path class="o" d="M838 2197.8L842 2201L842 2228"/>
<path class="o" d="M742.5 2095.5L742.5 2114.3"/>
<path class="o" d="M742.5 2206.3L742.5 2228"/>
<path class="o" d="M842 2120.5L842 2203.8"/>
<path class="o" d="M842 2120.5L902.5 2120.5"/>
<path class="o" d="M842 2203.8L902.5 2203.8"/>
<path class="o" d="M900 2095.5L900 2228"/>
<path class="o" d="M903 2095.5L903 2228"/>
<path class="o" d="M922.5 2095.5L922.5 2228"/>
</g>
<g id="bvnotes">
<text transform="translate(1722 1821)" text-anchor="middle" style="white-space:pre"><tspan class="c" x="18 54 90 126 162 198">底座安装尺寸</tspan></text>
<path class="t" d="M1813.8 1872L1813.8 2028"/>
<path class="t" d="M2059.5 1872L2059.5 2028"/>
<path class="t" d="M1813.8 1885.2L2059.5 1885.2"/>
<path class="a" d="M1813.8 1885.2L1845.8 1879.8L1845.8 1890.6Z"/>
<path class="a" d="M2059.5 1885.2L2027.5 1890.6L2027.5 1879.8Z"/>
<text transform="translate(1906.5 1877.3)" text-anchor="middle" style="white-space:pre"><tspan x="9 27 45">195</tspan></text>
<path class="t" d="M1936.5 1946.8L1936.5 2032"/>
<path class="t" d="M1936.5 1960.5L2059.5 1960.5"/>
<path class="a" d="M1936.5 1960.5L1968.5 1955.1L1968.5 1965.9Z"/>
<path class="a" d="M2059.5 1960.5L2027.5 1965.9L2027.5 1955.1Z"/>
<text transform="translate(1956 1953)" text-anchor="middle" style="white-space:pre"><tspan x="9 27 45 63 81">97.50</tspan></text>
<path class="t" d="M2154.3 1974.9L2364.6 1974.9"/>
<path class="t" d="M2154.3 1974.9L2059.5 2037"/>
<path class="a" d="M2067 2032L2090.82 2009.96L2096.74 2019Z"/>
<text transform="translate(2163 1969.7)" text-anchor="middle" style="white-space:pre"><tspan x="9 27 54 81 99 117">4x∅14 </tspan><tspan class="c" x="144 180">贯穿</tspan></text>
<path class="t" d="M2072.5 2037L2276 2037"/>
<path class="t" d="M2072.5 2286.5L2276 2286.5"/>
<path class="t" d="M2264.5 2037L2264.5 2286.5"/>
<path class="a" d="M2264.5 2037L2269.9 2069L2259.1 2069Z"/>
<path class="a" d="M2264.5 2286.5L2259.1 2254.5L2269.9 2254.5Z"/>
<text transform="translate(2258 2185.8) rotate(-90)" text-anchor="middle" style="white-space:pre"><tspan x="9 27 45">198</tspan></text>
<path class="t" d="M1456.2 2392.5L1832.5 2392.5"/>
<path class="t" d="M1832.5 2392.5L1936.5 2286.5"/>
<path class="a" d="M1933 2290.5L1914.39 2317.08L1906.69 2309.5Z"/>
<text transform="translate(1456 2386.2)" text-anchor="middle" style="white-space:pre"><tspan x="9 27 54 81 99">2x∅8 </tspan><tspan text-anchor="start" x="108" textLength="18" lengthAdjust="spacingAndGlyphs">H</tspan><tspan x="135">7</tspan></text>
<text transform="translate(1636.5 2386.2)" text-anchor="middle" style="white-space:pre"><tspan x="9">0</tspan></text>
<text transform="translate(1618.5 2349.6)" text-anchor="middle" style="white-space:pre"><tspan x="9 27 45 63 81 99">+0.015</tspan></text>
<text transform="translate(1748 2387)" text-anchor="middle" style="white-space:pre"><tspan class="c" x="18 54">贯穿</tspan></text>
<path class="t" d="M1130.8 1899.7L1295.6 1899.7"/>
<path class="t" d="M1130.8 1899.7L1049.9 2131"/>
<path class="a" d="M1049.9 2131L1055.37 2099.01L1065.56 2102.58Z"/>
<text transform="translate(1133.5 1892.7)" text-anchor="middle" style="white-space:pre"><tspan x="9 27 54 81">3xΦ6</tspan><tspan class="c" x="108 144">气管</tspan></text>
<path class="t" d="M1221.7 1980.4L1295.6 1980.4"/>
<path class="t" d="M1221.7 1980.4L1074.8 2127.3"/>
<path class="a" d="M1074.8 2127.3L1093.61 2100.85L1101.25 2108.49Z"/>
<text transform="translate(1224.5 1973.5)" text-anchor="middle" style="white-space:pre"><tspan text-anchor="start" x="0" textLength="36" lengthAdjust="spacingAndGlyphs">DB</tspan><tspan x="45 63">26</tspan></text>
</g>
<g id="envelope">
<g class="m" transform="translate(2164.47 -298.39) scale(0.4987)">
<path class="o" d="M1782 2061.3L1782 2023L2091.5 2023L2091.5 2300.8L1782 2300.8L1782 2262.6"/>
<path class="o" d="M1782 2047.5L2091.5 2047.5"/>
<path class="o" d="M1782 2050L2091.5 2050"/>
<path class="o" d="M1782 2272L2091.5 2272"/>
<path class="o" d="M1782 2275L2091.5 2275"/>
<path class="o" d="M1801.3 2023L1801.3 2047.5"/>
<path class="o" d="M1801.3 2275L1801.3 2300.8"/>
<path class="o" d="M1826.3 2023L1826.3 2047.5"/>
<path class="o" d="M1826.3 2275L1826.3 2300.8"/>
<path class="o" d="M2047 2023L2047 2047.5"/>
<path class="o" d="M2047 2275L2047 2300.8"/>
<path class="o" d="M2072.5 2023L2072.5 2047.5"/>
<path class="o" d="M2072.5 2275L2072.5 2300.8"/>
<circle class="o" cx="1813.8" cy="2037" r="9"/>
<circle class="o" cx="2059.5" cy="2037" r="9"/>
<circle class="o" cx="1813.8" cy="2286.5" r="9"/>
<circle class="o" cx="2059.5" cy="2286.5" r="9"/>
<circle class="o" cx="1936.5" cy="2037" r="5"/>
<circle class="o" cx="1936.5" cy="2286.5" r="5"/>
<path class="t" d="M1782 2051L1779.5 2051L1779.5 2061.3"/>
<path class="t" d="M1782 2271L1779.5 2271L1779.5 2262.6"/>
<path class="t" d="M2091.5 2051L2094.5 2051L2094.5 2271L2091.5 2271"/>
<path class="o" d="M1822.59 2061.27A9.3 9.3 0 0 0 1805.01 2061.27"/>
<path class="o" d="M1805.01 2262.53A9.3 9.3 0 0 0 1822.59 2262.53"/>
<path class="o" d="M1904.59 2061.27A9.3 9.3 0 0 0 1887.01 2061.27"/>
<path class="o" d="M1887.01 2262.53A9.3 9.3 0 0 0 1904.59 2262.53"/>
<circle class="o" cx="1978.8" cy="2064.3" r="9.3"/>
<circle class="o" cx="2059.5" cy="2064.3" r="9.3"/>
<circle class="o" cx="1978.8" cy="2259.5" r="9.3"/>
<circle class="o" cx="2059.5" cy="2259.5" r="9.3"/>
<circle class="h" cx="2061.8" cy="2162" r="31.3"/>
<circle class="o" cx="2061.8" cy="2162" r="27.5"/>
<circle class="o" cx="2061.8" cy="2162" r="25"/>
<circle class="o" cx="2061.8" cy="2162" r="20.5"/>
<circle class="h" cx="2061.8" cy="2162" r="18.3"/>
<rect class="o" x="2094.5" y="2090" width="54.3" height="27"/>
<path class="o" d="M2112.5 2090L2112.5 2117"/>
<path class="o" d="M2115.5 2090L2115.5 2117"/>
<path class="o" d="M2142.5 2090L2142.5 2117"/>
<path class="t" d="M2117 2101L2117 2105"/>
<rect class="o" x="2094.5" y="2118.8" width="5.5" height="23.2"/>
<rect class="o" x="2100" y="2122" width="14.3" height="16.5"/>
<path class="h" d="M2105 2122L2105 2138.5"/>
<path class="h" d="M2109 2123L2109 2137.5"/>
<rect class="o" x="2094.5" y="2185" width="2.5" height="56.3"/>
<rect class="o" x="2097" y="2194.5" width="3.5" height="38"/>
<rect class="h" x="2100.5" y="2196" width="5.8" height="35"/>
<rect class="o" x="2106.3" y="2195.5" width="27" height="35.8" rx="3.5"/>
<path class="o" d="M1167.5 2061.3L1971.3 2061.3"/>
<path class="o" d="M1167.5 2066.3L1971.3 2066.3"/>
<path class="o" d="M1167.5 2072.3L1971.3 2072.3"/>
<path class="o" d="M1167.5 2251.3L1971.3 2251.3"/>
<path class="o" d="M1167.5 2257.3L1971.3 2257.3"/>
<path class="o" d="M1167.5 2262.6L1971.3 2262.6"/>
<path class="h" d="M1167.5 2061.3L1167.5 2080"/>
<path class="o" d="M1170.5 2061.3L1170.5 2080"/>
<path class="h" d="M1167.5 2243.8L1167.5 2262.6"/>
<path class="o" d="M1170.5 2243.8L1170.5 2262.6"/>
<path class="o" d="M1968.8 2061.3L1968.8 2262.6"/>
<path class="h" d="M1971.3 2061.3L1971.3 2262.6"/>
<path class="o" d="M1971.3 2093.8Q2015 2162 1971.3 2230"/>
<rect class="o" x="1972.5" y="2142.5" width="10.8" height="38.8"/>
<circle class="o" cx="1978" cy="2152" r="3"/>
<circle class="o" cx="1978" cy="2158" r="3"/>
<circle class="o" cx="1978" cy="2166" r="3"/>
<circle class="o" cx="1978" cy="2172" r="3"/>
<circle class="o" cx="1974.5" cy="2117" r="4"/>
<circle class="o" cx="1974.5" cy="2117" r="2"/>
<circle class="o" cx="1974.5" cy="2207" r="4"/>
<circle class="o" cx="1974.5" cy="2207" r="2"/>
<path class="o" d="M665 2080L1343 2080"/>
<path class="o" d="M665 2086.3L1343 2086.3"/>
<path class="o" d="M665 2088.5L1343 2088.5"/>
<path class="o" d="M665 2235.3L1343 2235.3"/>
<path class="o" d="M665 2237.5L1343 2237.5"/>
<path class="o" d="M665 2243.8L1343 2243.8"/>
<path class="o" d="M665 2080L665 2243.8"/>
<path class="o" d="M667.5 2080L667.5 2243.8"/>
<path class="o" d="M1340.5 2080L1340.5 2243.8"/>
<path class="h" d="M1343 2080L1343 2243.8"/>
<path class="t" d="M1343 2130Q1352 2162 1343 2194"/>
<rect class="o" x="1183.3" y="2099.2" width="147.1" height="125.5" rx="11"/>
<circle class="o" cx="1191" cy="2106.3" r="3.8"/>
<circle class="s" cx="1191" cy="2106.3" r="1.6"/>
<circle class="o" cx="1322.7" cy="2106.3" r="3.8"/>
<circle class="s" cx="1322.7" cy="2106.3" r="1.6"/>
<circle class="o" cx="1191" cy="2217.4" r="3.8"/>
<circle class="s" cx="1191" cy="2217.4" r="1.6"/>
<circle class="o" cx="1322.7" cy="2217.4" r="3.8"/>
<circle class="s" cx="1322.7" cy="2217.4" r="1.6"/>
<path class="o" d="M1218.63 2100.3A72.5 72.5 0 0 0 1218.63 2223.7"/>
<path class="o" d="M1294.77 2100.3A72.5 72.5 0 0 1 1294.77 2223.7"/>
<path class="o" d="M1225.81 2100.3A69 69 0 0 0 1225.81 2223.7"/>
<path class="o" d="M1287.59 2100.3A69 69 0 0 1 1287.59 2223.7"/>
<path class="t" d="M1216.58 2111.5A64.5 64.5 0 0 0 1216.58 2212.5"/>
<path class="t" d="M1296.82 2111.5A64.5 64.5 0 0 1 1296.82 2212.5"/>
<rect class="o" x="1198" y="2111.4" width="116.2" height="101.1" rx="9"/>
<path class="o" d="M1231.2 2099.2L1231.2 2224.7"/>
<path class="o" d="M1282.2 2099.2L1282.2 2224.7"/>
<rect class="o" x="1025.8" y="2101.3" width="146.2" height="120.7" rx="12"/>
<path class="h" d="M1037 2101.3L1160 2101.3"/>
<circle class="o" cx="1034.5" cy="2111.3" r="2.3"/>
<circle class="o" cx="1163" cy="2111.3" r="2.3"/>
<circle class="o" cx="1034.5" cy="2212.5" r="2.3"/>
<circle class="o" cx="1163" cy="2212.5" r="2.3"/>
<circle class="h" cx="1047.5" cy="2136.3" r="9.3"/>
<circle class="o" cx="1047.5" cy="2136.3" r="6.5"/>
<circle class="o" cx="1047.5" cy="2136.3" r="3.3"/>
<path class="h" d="M1058.59 2165.84L1049.55 2173.42L1038.46 2169.38L1036.41 2157.76L1045.45 2150.18L1056.54 2154.22Z"/>
<circle class="h" cx="1047.5" cy="2161.8" r="9.3"/>
<circle class="o" cx="1047.5" cy="2161.8" r="6.5"/>
<circle class="o" cx="1047.5" cy="2161.8" r="3.3"/>
<path class="h" d="M1058.59 2191.04L1049.55 2198.62L1038.46 2194.58L1036.41 2182.96L1045.45 2175.38L1056.54 2179.42Z"/>
<circle class="h" cx="1047.5" cy="2187" r="9.3"/>
<circle class="o" cx="1047.5" cy="2187" r="6.5"/>
<circle class="o" cx="1047.5" cy="2187" r="3.3"/>
<rect class="o" x="1060.5" y="2126.8" width="27" height="70.2"/>
<path class="o" d="M1060.5 2136.3L1087.5 2136.3"/>
<path class="o" d="M1060.5 2143.8L1087.5 2143.8"/>
<path class="o" d="M1060.5 2180L1087.5 2180"/>
<path class="o" d="M1060.5 2187.5L1087.5 2187.5"/>
<circle class="o" cx="1074.3" cy="2161.8" r="6.3"/>
<circle class="o" cx="1074.3" cy="2132.5" r="2.3"/>
<circle class="o" cx="1074.3" cy="2191.3" r="2.3"/>
<path class="t" d="M1063 2126.8L1063 2136.3"/>
<path class="t" d="M1085 2126.8L1085 2136.3"/>
<path class="t" d="M1063 2187.5L1063 2197"/>
<path class="t" d="M1085 2187.5L1085 2197"/>
<circle class="o" cx="1136.3" cy="2161.8" r="31.3"/>
<circle class="h" cx="1136.3" cy="2161.8" r="28.3"/>
<circle class="o" cx="1136.3" cy="2161.8" r="18.8"/>
<circle class="h" cx="1136.3" cy="2161.8" r="16.3"/>
<path class="o" d="M688.8 2087.5L1008 2087.5L1008 2236.3L688.8 2236.3Q669.5 2200 669.5 2161.9Q669.5 2124 688.8 2087.5Z"/>
<circle class="o" cx="691.3" cy="2093.8" r="4.2"/>
<circle class="h" cx="691.3" cy="2093.8" r="2"/>
<circle class="o" cx="1001.8" cy="2093.8" r="4.2"/>
<circle class="h" cx="1001.8" cy="2093.8" r="2"/>
<circle class="o" cx="691.3" cy="2229.3" r="4.2"/>
<circle class="h" cx="691.3" cy="2229.3" r="2"/>
<circle class="o" cx="1001.8" cy="2229.3" r="4.2"/>
<circle class="h" cx="1001.8" cy="2229.3" r="2"/>
<path class="h" d="M706.3 2095.5L988.8 2095.5L1005 2112.5L1005 2210L988.8 2228L706.3 2228L681.3 2210Q675 2162 681.3 2113.8Z"/>
<path class="t" d="M708 2099.5L975 2099.5M975 2224L708 2224L686 2207.5Q680 2162 686 2116.3L708 2099.5"/>
<path class="o" d="M975 2099.5L984.5 2105L984.5 2218.8L975 2224"/>
<path class="t" d="M984.5 2105L1005 2112.5"/>
<path class="t" d="M984.5 2218.8L1005 2210"/>
<path class="t" d="M975 2099.5L988.8 2095.5"/>
<path class="t" d="M975 2224L988.8 2228"/>
<path class="t" d="M984.5 2105L996 2104"/>
<path class="t" d="M984.5 2218.8L996 2220"/>
<path class="o" d="M840 2114.3L733 2114.3A46 46 0 0 0 733 2206.3L840 2206.3"/>
<path class="t" d="M840 2117.8L733 2117.8A42.5 42.5 0 0 0 733 2202.8L840 2202.8"/>
<path class="t" d="M840 2120.3L733 2120.3A40 40 0 0 0 733 2200.3L840 2200.3"/>
<path class="o" d="M840 2122.8L733 2122.8A37.5 37.5 0 0 0 733 2197.8L840 2197.8"/>
<path class="k" d="M728.8 2120L778.8 2120"/>
<path class="k" d="M728.8 2203.5L802.5 2203.5"/>
<path class="t" d="M688 2150L688 2170"/>
<path class="t" d="M692 2150L692 2170"/>
<path class="t" d="M695 2150L695 2170"/>
<path class="o" d="M840 2114.3L845.5 2110L845.5 2095.5"/>
<path class="o" d="M840 2206.3L845.5 2210.5L845.5 2228"/>
<path class="o" d="M838 2122.8L842 2119.5L842 2095.5"/>
<path class="o" d="M838 2197.8L842 2201L842 2228"/>
<path class="o" d="M742.5 2095.5L742.5 2114.3"/>
<path class="o" d="M742.5 2206.3L742.5 2228"/>
<path class="o" d="M842 2120.5L842 2203.8"/>
<path class="o" d="M842 2120.5L902.5 2120.5"/>
<path class="o" d="M842 2203.8L902.5 2203.8"/>
<path class="o" d="M900 2095.5L900 2228"/>
<path class="o" d="M903 2095.5L903 2228"/>
<path class="o" d="M922.5 2095.5L922.5 2228"/>
</g>
<path class="k" d="M3510.38 388.21A566.8 566.8 0 1 0 3510.38 1171.39A250.8 250.8 0 0 0 3452.5 779.8A250.8 250.8 0 0 0 3510.38 388.21Z"/>
<circle class="k" cx="3100.6" cy="779.8" r="179.9"/>
<path class="t" d="M2991.32 637.2A250.8 250.8 0 1 0 2991.32 922.4" stroke-dasharray="215 7 14 7 260 7 14 7 330 7 14 7 2000"/>
<path class="t" d="M2535 779.8L3100.6 779.8" stroke-dasharray="372 8 16 8 400"/>
<path class="t" d="M2785 779.8L2997.04 631.33" stroke-dasharray="108 7 14 7 400"/>
<path class="t" d="M2785 779.8L2997.04 928.27" stroke-dasharray="108 7 14 7 400"/>
<path class="t" d="M3100.6 779.8L3510.38 388.21" stroke-dasharray="172 6 14 6 172 6 14 6 400"/>
<path class="t" d="M3100.6 779.8L3510.38 1171.39" stroke-dasharray="172 6 14 6 172 6 14 6 400"/>
<path class="t" d="M3329.06 561.48L3279.91 807.42" stroke-dasharray="108 6 14 6 400"/>
<path class="t" d="M3329.06 998.12L3279.91 752.18" stroke-dasharray="108 6 14 6 400"/>
<path class="t" d="M2865.83 263.9L3335.37 1295.7"/>
<path class="t" d="M2834 192L2865.83 263.9"/>
<path class="a" d="M2865.83 263.9L2847.94 236.82L2857.81 232.45Z"/>
<path class="t" d="M2426 192L2834 192"/>
<text transform="translate(2425 186.2)" text-anchor="middle" style="white-space:pre"><tspan class="c" x="18.05">①</tspan><tspan x="54.15 81.23 99.28 117.33 135.38 153.43 180.5 207.58 225.63 243.68 261.73 279.78 306.85 333.93 351.98 370.03 388.08">∅1600/∅1800/∅2000</tspan></text>
<path class="t" d="M3076.57 601.52L3124.63 958.08"/>
<path class="t" d="M3066.2 509.5L3076.57 601.52"/>
<path class="a" d="M3076.57 601.52L3067.62 570.32L3078.35 569.12Z"/>
<path class="t" d="M2547.8 509.5L3066.2 509.5"/>
<text transform="translate(2547 503.5)" text-anchor="middle" style="white-space:pre"><tspan class="c" x="18.05">①</tspan><tspan x="54.15 81.23 99.28 117.33 135.38 153.43 171.48 189.53 216.6 243.68 261.73 279.78 297.83 315.88 333.93 351.98 379.05 406.13 424.18 442.23 460.28 478.33 496.38">∅481.13/∅573.90/∅712.20</tspan></text>
<path class="t" d="M2696.29 545.23L2720.33 608.8"/>
<path class="t" d="M2735.69 649.4L2873.71 1014.37"/>
<path class="a" d="M2696.29 545.23L2712.66 573.25L2702.56 577.07Z"/>
<path class="a" d="M2873.71 1014.37L2857.34 986.35L2867.44 982.53Z"/>
<text transform="translate(2690 645.3)" text-anchor="middle" style="white-space:pre"><tspan x="18 45 63 81">∅800</tspan></text>
<path class="t" d="M2679 779.8A106 106 0 0 1 2764.77 675.75"/>
<path class="t" d="M2847.31 694.04A106 106 0 0 1 2871.83 719"/>
<path class="t" d="M2679 779.8A106 106 0 0 0 2743.58 877.37"/>
<path class="t" d="M2834.76 873.39A106 106 0 0 0 2871.83 840.6"/>
<path class="a" d="M2679 779.8L2673.6 749.8L2684.4 749.8Z"/>
<path class="a" d="M2679 779.8L2684.4 809.8L2673.6 809.8Z"/>
<path class="a" d="M2871.83 719L2847.42 700.74L2855.32 693.38Z"/>
<path class="a" d="M2871.83 840.6L2855.32 866.22L2847.42 858.86Z"/>
<text transform="translate(2759 686)" text-anchor="middle" style="white-space:pre"><tspan x="9 27 45 63">145°</tspan></text>
<text transform="translate(2747 899.5)" text-anchor="middle" style="white-space:pre"><tspan x="9 27 45 63">145°</tspan></text>
<path class="t" d="M2992.1 779.8A108.5 108.5 0 0 1 3079.9 673.29"/>
<path class="t" d="M3151.54 684A108.5 108.5 0 0 1 3178.65 704.43"/>
<path class="t" d="M2992.1 779.8A108.5 108.5 0 0 0 3039.93 869.75"/>
<path class="t" d="M3123.16 885.93A108.5 108.5 0 0 0 3178.65 855.17"/>
<path class="a" d="M2992.1 779.8L2986.7 749.8L2997.5 749.8Z"/>
<path class="a" d="M2992.1 779.8L2997.5 809.8L2986.7 809.8Z"/>
<path class="a" d="M3178.65 704.43L3151.68 690.21L3158.33 681.7Z"/>
<path class="a" d="M3178.65 855.17L3158.33 877.9L3151.68 869.39Z"/>
<text transform="translate(3081.5 686)" text-anchor="middle" style="white-space:pre"><tspan x="9 27 45 63">136°</tspan></text>
<text transform="translate(3032.5 896)" text-anchor="middle" style="white-space:pre"><tspan x="9 27 45 63">136°</tspan></text>
<path class="t" d="M3406.17 487.01A107.2 107.2 0 0 1 3434.94 578.25"/>
<path class="t" d="M3417.93 621.43A107.2 107.2 0 0 1 3308.6 666.71"/>
<path class="a" d="M3406.17 487.01L3428.17 508.11L3419.44 514.46Z"/>
<path class="a" d="M3308.6 666.71L3338.84 662.89L3338.28 673.67Z"/>
<path class="t" d="M3406.17 1072.59A107.2 107.2 0 0 0 3433.51 974"/>
<path class="t" d="M3412.37 930.66A107.2 107.2 0 0 0 3308.6 892.89"/>
<path class="a" d="M3406.17 1072.59L3419.44 1045.14L3428.17 1051.49Z"/>
<path class="a" d="M3308.6 892.89L3338.28 885.93L3338.84 896.71Z"/>
<text transform="translate(3383 611.8)" text-anchor="middle" style="white-space:pre"><tspan x="9 27 45 63">145°</tspan></text>
<text transform="translate(3382 963.7)" text-anchor="middle" style="white-space:pre"><tspan x="9 27 45 63">145°</tspan></text>
<path class="t" d="M2982.66 743.95L3297.51 443.07"/>
<path class="t" d="M3100.6 779.8L3018.8 694.2"/>
<path class="t" d="M3329.06 561.48L3253.48 482.39"/>
<path class="a" d="M3026.4 702.15L3007 728.17L2999.53 720.36Z"/>
<path class="a" d="M3254.86 483.83L3274.26 457.82L3281.72 465.63Z"/>
<text transform="translate(3159.7 569.7) rotate(-43.7)" text-anchor="middle" style="white-space:pre"><tspan class="c" x="18.05">①</tspan><tspan x="45.12 63.18 81.23 99.28 117.33 135.38 153.43 171.48 189.53 207.58 225.63">400/500/600</tspan></text>
</g>
<g id="details">
<text transform="translate(2568 1516)" text-anchor="middle" style="white-space:pre"><tspan class="c" x="18 54 90 126 162 198">末端安装尺寸</tspan></text>
<text transform="translate(2832.5 1552.5)" text-anchor="middle" style="white-space:pre"><tspan x="9">I</tspan></text>
<path class="t" d="M2796.3 1563.8L2887.5 1563.8"/>
<text transform="translate(2797 1600)" text-anchor="middle" style="white-space:pre"><tspan x="9 27 45 63 81">2 : 5</tspan></text>
<text transform="translate(3297.5 1548.5)" text-anchor="middle" style="white-space:pre"><tspan class="c" x="18 54 90 126 162 198">推荐安装方式</tspan></text>
<path class="o" d="M2582.5 1642.5L2842.5 1642.5"/>
<path class="o" d="M2571.3 1648.3L2853.8 1648.3"/>
<rect class="o" x="2599.5" y="1648.3" width="226.8" height="86"/>
<path class="k" d="M2599.5 1660.5L2826.3 1660.5"/>
<path class="o" d="M2837.5 1648.3L2837.5 1673.8"/>
<path class="o" d="M2837.5 1673.8L2857 1673.8Q2868 1673.8 2868 1685L2868 1818Q2868 1835 2885 1835L3014 1835"/>
<path class="o" d="M2857 1673.8L2895 1673.8M2862.5 1680.8L2862.5 1818Q2862.5 1840 2884.5 1840L3014 1840M2866 1680.8L2904.5 1680.8"/>
<path class="t" d="M2866.5 1676L2857 1674"/>
<path class="o" d="M2876.3 1660L2876.3 1673.8"/>
<path class="t" d="M2884 1835L2881 1840"/>
<rect class="o" x="2659.5" y="1734.3" width="106.3" height="125.7"/>
<path class="o" d="M2659.5 1834.3L2765.8 1834.3"/>
<path class="h" d="M2680.8 1860L2680.8 1898"/>
<path class="h" d="M2680.8 1938L2680.8 2052"/>
<path class="o" d="M2683.3 1860L2683.3 1898"/>
<path class="o" d="M2683.3 1938L2683.3 2052"/>
<path class="o" d="M2714.5 1860L2714.5 1898"/>
<path class="o" d="M2714.5 1938L2714.5 2052"/>
<path class="o" d="M2724.3 1860L2724.3 1898"/>
<path class="o" d="M2724.3 1938L2724.3 2052"/>
<path class="o" d="M2744.5 1860L2744.5 1898"/>
<path class="o" d="M2744.5 1938L2744.5 2052"/>
<rect class="o" x="2668.8" y="1898" width="88.2" height="4.5"/>
<rect class="o" x="2643" y="1902.5" width="139" height="35.5"/>
<circle class="o" cx="2763.3" cy="1920.8" r="13"/>
<circle class="k" cx="2763.3" cy="1920.8" r="6.6" style="stroke-width:4.4"/>
<circle class="o" cx="2763.3" cy="1920.8" r="2.5"/>
<rect class="o" x="2688.8" y="1943.3" width="15.5" height="25.5"/>
<path class="o" d="M2680.8 2052L2744.5 2052"/>
<path class="t" d="M2826.3 1734.3L2966.3 1734.3"/>
<path class="t" d="M2782 1938L2886.3 1938"/>
<path class="t" d="M2744.5 2052L2966.3 2052"/>
<path class="t" d="M2873.8 1938L2873.8 2052"/>
<path class="a" d="M2873.8 1938L2879.2 1970L2868.4 1970Z"/>
<path class="a" d="M2873.8 2052L2868.4 2020L2879.2 2020Z"/>
<path class="t" d="M2953.3 1734.3L2953.3 2052"/>
<path class="a" d="M2953.3 1734.3L2958.7 1766.3L2947.9 1766.3Z"/>
<path class="a" d="M2953.3 2052L2947.9 2020L2958.7 2020Z"/>
<text transform="translate(2868 2016.8) rotate(-90)" text-anchor="middle" style="white-space:pre"><tspan x="9 27">45</tspan></text>
<text transform="translate(2948 1907) rotate(-90)" text-anchor="middle" style="white-space:pre"><tspan x="9 27 45">126</tspan></text>
<path class="t" d="M2680.8 2052L2680.8 2150"/>
<path class="t" d="M2744.5 2052L2744.5 2150"/>
<path class="t" d="M2680.8 2137.5L2865 2137.5"/>
<path class="a" d="M2680.8 2137.5L2712.8 2132.1L2712.8 2142.9Z"/>
<path class="a" d="M2744.5 2137.5L2712.5 2142.9L2712.5 2132.1Z"/>
<text transform="translate(2644.5 2131.3)" text-anchor="middle" style="white-space:pre"><tspan x="9 27 45 63 81">25 h6</tspan></text>
<text transform="translate(2753.5 2131.3)" text-anchor="middle" style="white-space:pre"><tspan x="9 27 45 63 81 99">-0.013</tspan></text>
<text transform="translate(2772 2095)" text-anchor="middle" style="white-space:pre"><tspan x="9">0</tspan></text>
<path class="t" d="M2505.5 1987.5L2464.5 1987.5L2464.5 2030"/>
<path class="a" d="M2464.5 2067.5L2457.5 2027.5L2471.5 2027.5Z"/>
<text transform="translate(2504.5 2013.8)" text-anchor="middle" style="white-space:pre" font-size="20"><tspan text-anchor="start" x="0" textLength="10" lengthAdjust="spacingAndGlyphs">A</tspan></text>
<path class="t" d="M3073.4 1987L3114.1 1987L3114.1 2030"/>
<path class="a" d="M3114.1 2067.5L3107.1 2027.5L3121.1 2027.5Z"/>
<text transform="translate(3064 2014)" text-anchor="middle" style="white-space:pre" font-size="20"><tspan text-anchor="start" x="0" textLength="10" lengthAdjust="spacingAndGlyphs">A</tspan></text>
<text transform="translate(2808 2265.5)" text-anchor="middle" style="white-space:pre"><tspan text-anchor="start" x="0" textLength="18" lengthAdjust="spacingAndGlyphs">A</tspan><tspan x="27">-</tspan><tspan text-anchor="start" x="36" textLength="18" lengthAdjust="spacingAndGlyphs">A</tspan></text>
<path class="t" d="M2789.7 2276.4L2881.5 2276.4"/>
<text transform="translate(2791 2312.5)" text-anchor="middle" style="white-space:pre"><tspan x="9 27 45 63 81">1 : 1</tspan></text>
<path class="o" d="M2765.03 2314.83A9.2 9.2 0 0 0 2783.06 2311.32A78.9 78.9 0 0 1 2864.17 2366.03A9.2 9.2 0 0 0 2867.68 2384.06A78.9 78.9 0 0 1 2812.97 2465.17A9.2 9.2 0 0 0 2794.94 2468.68A78.9 78.9 0 0 1 2713.83 2413.97A9.2 9.2 0 0 0 2710.32 2395.94A78.9 78.9 0 0 1 2765.03 2314.83Z"/>
<circle class="o" cx="2789" cy="2390" r="47.3"/>
<path class="t" d="M2726 2390L2773 2390M2805 2390L2855 2390M2789 2327L2789 2374M2789 2406L2789 2456" stroke-dasharray="5 7"/>
<path class="t" d="M2773 2390L2805 2390"/>
<path class="t" d="M2789 2374L2789 2406"/>
<path class="t" d="M2749.07 2458.05L2828.93 2321.95"/>
<path class="t" d="M2447.8 2522L2713.4 2522"/>
<path class="t" d="M2713.4 2522L2749.07 2458.05"/>
<path class="a" d="M2749.07 2458.05L2738.2 2488.63L2728.77 2483.37Z"/>
<text transform="translate(2450.5 2514.8)" text-anchor="middle" style="white-space:pre"><tspan x="18 45 63 81 99 117 135 153 171 189 207 225 243">∅25 h6 -0.013</tspan></text>
<text transform="translate(2611.5 2477.8)" text-anchor="middle" style="white-space:pre"><tspan x="9">0</tspan></text>
<path class="t" d="M2754.8 2357.32L2823.2 2422.68"/>
<path class="t" d="M2823.2 2422.68L2891.6 2492.2"/>
<path class="t" d="M2891.6 2492.2L3120.5 2492.2"/>
<path class="a" d="M2823.2 2422.68L2849.49 2441.7L2841.79 2449.28Z"/>
<text transform="translate(2905 2485)" text-anchor="middle" style="white-space:pre"><tspan x="18 45 63">∅15</tspan><tspan class="c" x="90 126 162 198">（选配）</tspan></text>
<text transform="translate(3252.5 1701)" text-anchor="middle" style="white-space:pre"><tspan class="c" x="18 54 90">花键轴</tspan></text>
<path class="t" d="M3254.6 1706.7L3364.3 1706.7"/>
<path class="t" d="M3364.3 1706.7L3410.9 1740.3"/>
<path class="a" d="M3410.9 1740.3L3381.79 1725.96L3388.1 1717.2Z"/>
<path class="t" d="M3411.5 1767.6L3411.5 1683.5L3537.2 1683.5L3537.2 1767.6"/>
<rect class="o" x="3248.6" y="1767.6" width="351.8" height="188.8"/>
<path class="o" d="M3264.6 1767.6L3264.6 1956.4"/>
<path class="t" d="M3411.5 1767.6L3411.5 1956.4M3537.2 1767.6L3537.2 1956.4" stroke-dasharray="6 3"/>
<path class="t" d="M3568.8 1771L3568.8 1954" stroke-dasharray="14 9"/>
<circle class="o" cx="3568.8" cy="1811.5" r="24.9"/>
<circle class="o" cx="3568.8" cy="1811.5" r="14.3"/>
<path class="t" d="M3568.8 1797.2L3568.8 1825.8"/>
<path class="t" d="M3554.5 1811.5L3583.1 1811.5"/>
<path class="t" d="M3528.5 1811.5L3536 1811.5"/>
<path class="t" d="M3602 1811.5L3609.5 1811.5"/>
<circle class="o" cx="3568.8" cy="1912.2" r="24.9"/>
<circle class="o" cx="3568.8" cy="1912.2" r="14.3"/>
<path class="t" d="M3568.8 1897.9L3568.8 1926.5"/>
<path class="t" d="M3554.5 1912.2L3583.1 1912.2"/>
<path class="t" d="M3528.5 1912.2L3536 1912.2"/>
<path class="t" d="M3602 1912.2L3609.5 1912.2"/>
<text transform="translate(3263.5 2153)" text-anchor="middle" style="white-space:pre"><tspan class="c" x="18 54">孔径</tspan></text>
<path class="t" d="M3264 2156.5L3338.2 2156.5"/>
<path class="t" d="M3338.2 2156.5L3414.1 2284.1"/>
<path class="a" d="M3414.1 2284.1L3393.1 2259.36L3402.38 2253.84Z"/>
<text transform="translate(3627.5 2193.8)" text-anchor="middle" style="white-space:pre"><tspan class="c" x="18 54">螺钉</tspan></text>
<path class="t" d="M3625.1 2197.2L3698.6 2197.2"/>
<path class="t" d="M3625.1 2197.2L3564.8 2265.8"/>
<path class="a" d="M3564.8 2265.8L3581.87 2238.2L3589.98 2245.33Z"/>
<path class="o" d="M3270.3 2205.8L3582.4 2205.8L3582.4 2324.8L3518.6 2324.8M3518.6 2338.2L3582.4 2338.2L3582.4 2457.5L3246.2 2457.5C3256 2420 3250 2385 3240 2345C3226 2290 3230 2240 3270.3 2205.8"/>
<path class="o" d="M3518.42 2324.8A62.6 62.6 0 1 0 3518.46 2338.2"/>
<path class="t" d="M3536.5 2205.8L3536.5 2428.9M3564.8 2205.8L3564.8 2428.9M3525.5 2457.5L3525.5 2428.9L3576.2 2428.9L3576.2 2457.5" stroke-dasharray="6 3"/>
</g>
<text transform="translate(380 2497.7)" text-anchor="middle" style="white-space:pre"><tspan class="c" x="18.2 54.6 91 127.4">①依次是</tspan><tspan text-anchor="start" x="145.6" textLength="36.4" lengthAdjust="spacingAndGlyphs">TR</tspan><tspan x="191.1 209.3 227.5 245.7 263.9 282.1">10-800</tspan><tspan text-anchor="start" x="291.2" textLength="18.2" lengthAdjust="spacingAndGlyphs">S</tspan><tspan x="318.5">/</tspan><tspan text-anchor="start" x="327.6" textLength="36.4" lengthAdjust="spacingAndGlyphs">TH</tspan><tspan class="c" x="382.2">、</tspan><tspan text-anchor="start" x="400.4" textLength="36.4" lengthAdjust="spacingAndGlyphs">TR</tspan><tspan x="445.9 464.1 482.3 500.5 518.7 536.9">10-900</tspan><tspan text-anchor="start" x="546" textLength="18.2" lengthAdjust="spacingAndGlyphs">S</tspan><tspan x="573.3">/</tspan><tspan text-anchor="start" x="582.4" textLength="36.4" lengthAdjust="spacingAndGlyphs">TH</tspan><tspan class="c" x="637">、</tspan><tspan text-anchor="start" x="655.2" textLength="36.4" lengthAdjust="spacingAndGlyphs">TR</tspan><tspan x="700.7 718.9 737.1 755.3 773.5 791.7 809.9">10-1000</tspan><tspan text-anchor="start" x="819" textLength="18.2" lengthAdjust="spacingAndGlyphs">S</tspan><tspan x="846.3">/</tspan><tspan text-anchor="start" x="855.4" textLength="36.4" lengthAdjust="spacingAndGlyphs">TH</tspan><tspan class="c" x="910 946.4">尺寸</tspan></text>
</svg></body></html>
